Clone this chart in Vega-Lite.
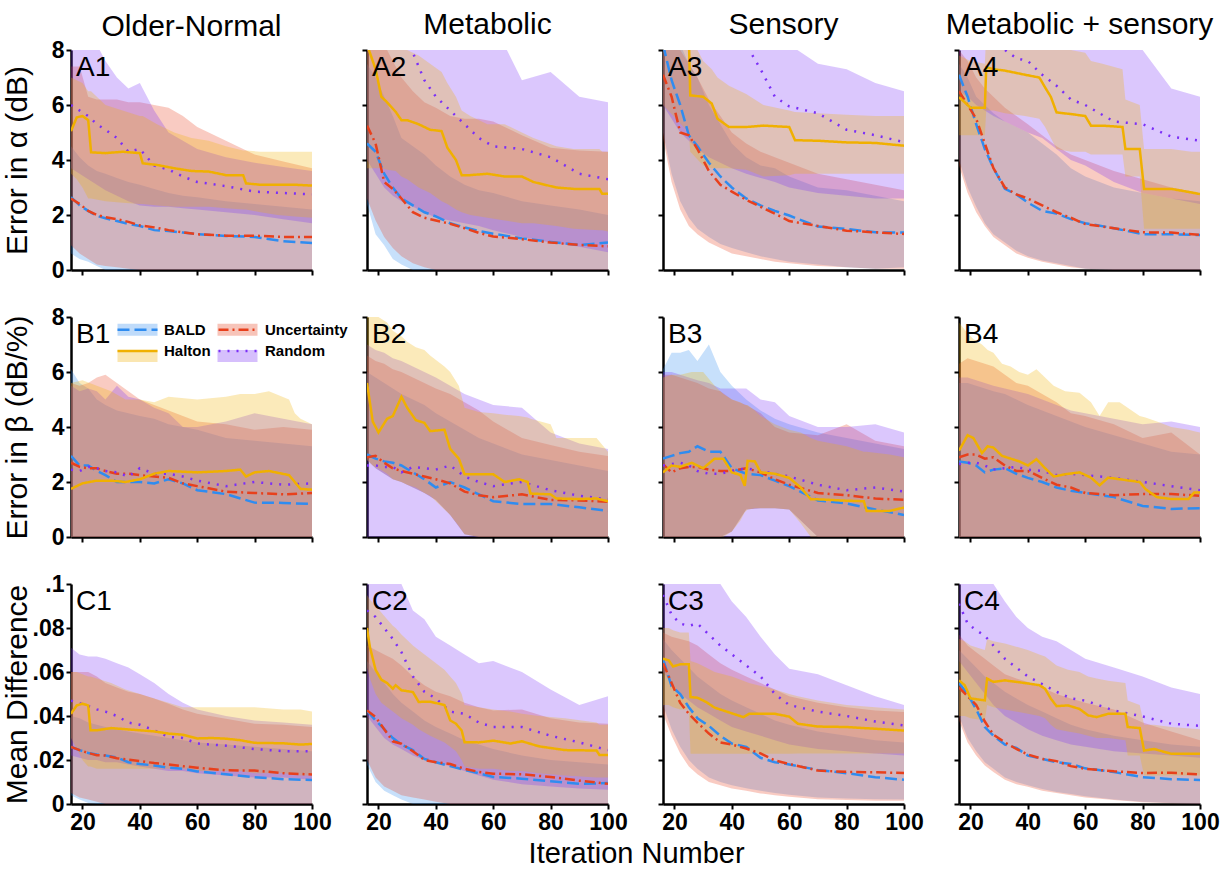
{
"$schema":"https://vega.github.io/schema/vega-lite/v6.json",
"background":"white",
"padding":{"left":2,"top":10,"right":4,"bottom":0},
"title":{"text":"Iteration Number","orient":"bottom","anchor":"middle","fontSize":29,"offset":6,"dx":26},
"resolve":{"legend":{"color":"independent","strokeDash":"independent","fill":"independent"}},
"data":{"values":[
{"p":"A1","m":"B","x":16,"y":2.65,"l":0.6,"h":4.5},{"p":"A1","m":"B","x":19,"y":2.35,"l":0.4,"h":4.1},{"p":"A1","m":"B","x":22,"y":2.15,"l":0.3,"h":3.8},{"p":"A1","m":"B","x":25,"y":1.97,"l":0.15,"h":3.6},{"p":"A1","m":"B","x":28,"y":1.88,"l":0,"h":3.5},{"p":"A1","m":"B","x":32,"y":1.78,"l":0,"h":3.35},{"p":"A1","m":"B","x":36,"y":1.68,"l":0,"h":3.2},{"p":"A1","m":"B","x":40,"y":1.6,"l":0,"h":3.1},{"p":"A1","m":"B","x":45,"y":1.45,"l":0,"h":2.95},{"p":"A1","m":"B","x":50,"y":1.42,"l":0,"h":2.8},{"p":"A1","m":"B","x":55,"y":1.36,"l":0,"h":2.7},{"p":"A1","m":"B","x":60,"y":1.3,"l":0,"h":2.65},{"p":"A1","m":"B","x":70,"y":1.24,"l":0,"h":2.5},{"p":"A1","m":"B","x":80,"y":1.2,"l":0,"h":2.4},{"p":"A1","m":"B","x":90,"y":1.05,"l":0,"h":2.3},{"p":"A1","m":"B","x":100,"y":0.98,"l":0,"h":2.2},
{"p":"A1","m":"U","x":16,"y":2.6,"l":0.9,"h":7.4},{"p":"A1","m":"U","x":19,"y":2.4,"l":0.6,"h":7.4},{"p":"A1","m":"U","x":22,"y":2.15,"l":0.4,"h":6.3},{"p":"A1","m":"U","x":25,"y":2.0,"l":0.2,"h":6.2},{"p":"A1","m":"U","x":28,"y":1.92,"l":0.15,"h":6.2},{"p":"A1","m":"U","x":32,"y":1.85,"l":0.1,"h":6.2},{"p":"A1","m":"U","x":36,"y":1.75,"l":0.05,"h":6.1},{"p":"A1","m":"U","x":40,"y":1.62,"l":0,"h":6.1},{"p":"A1","m":"U","x":45,"y":1.55,"l":0,"h":6.0},{"p":"A1","m":"U","x":50,"y":1.45,"l":0,"h":5.9},{"p":"A1","m":"U","x":55,"y":1.37,"l":0,"h":5.6},{"p":"A1","m":"U","x":60,"y":1.3,"l":0,"h":5.2},{"p":"A1","m":"U","x":70,"y":1.25,"l":0,"h":4.7},{"p":"A1","m":"U","x":80,"y":1.25,"l":0,"h":4.2},{"p":"A1","m":"U","x":90,"y":1.2,"l":0,"h":3.95},{"p":"A1","m":"U","x":100,"y":1.2,"l":0,"h":3.7},
{"p":"A1","m":"R","x":16,"y":6.0,"l":3.7,"h":8.5},{"p":"A1","m":"R","x":19,"y":5.8,"l":3.5,"h":8.5},{"p":"A1","m":"R","x":22,"y":5.6,"l":3.3,"h":8.5},{"p":"A1","m":"R","x":25,"y":5.3,"l":3.1,"h":8.2},{"p":"A1","m":"R","x":28,"y":5.1,"l":2.9,"h":7.6},{"p":"A1","m":"R","x":32,"y":4.8,"l":2.7,"h":7.0},{"p":"A1","m":"R","x":36,"y":4.3,"l":2.5,"h":6.6},{"p":"A1","m":"R","x":40,"y":4.4,"l":2.35,"h":6.8},{"p":"A1","m":"R","x":45,"y":3.8,"l":2.3,"h":5.8},{"p":"A1","m":"R","x":50,"y":3.65,"l":2.3,"h":5.0},{"p":"A1","m":"R","x":55,"y":3.4,"l":2.25,"h":4.7},{"p":"A1","m":"R","x":60,"y":3.2,"l":2.2,"h":4.4},{"p":"A1","m":"R","x":70,"y":3.05,"l":2.1,"h":4.1},{"p":"A1","m":"R","x":80,"y":2.85,"l":2.0,"h":3.9},{"p":"A1","m":"R","x":90,"y":2.8,"l":1.85,"h":3.75},{"p":"A1","m":"R","x":100,"y":2.75,"l":1.7,"h":3.6},
{"p":"A1","m":"H","x":16,"y":5.05,"l":3.5,"h":7.0},{"p":"A1","m":"H","x":18,"y":5.55,"l":3.3,"h":6.9},{"p":"A1","m":"H","x":20,"y":5.6,"l":3.0,"h":6.8},{"p":"A1","m":"H","x":22,"y":5.45,"l":2.6,"h":6.5},{"p":"A1","m":"H","x":23,"y":4.28,"l":2.6,"h":6.5},{"p":"A1","m":"H","x":28,"y":4.25,"l":2.5,"h":6.0},{"p":"A1","m":"H","x":34,"y":4.3,"l":2.45,"h":5.8},{"p":"A1","m":"H","x":40,"y":4.25,"l":2.4,"h":5.6},{"p":"A1","m":"H","x":41,"y":3.88,"l":2.4,"h":5.6},{"p":"A1","m":"H","x":46,"y":3.82,"l":2.35,"h":5.3},{"p":"A1","m":"H","x":52,"y":3.7,"l":2.3,"h":5.0},{"p":"A1","m":"H","x":58,"y":3.6,"l":2.3,"h":4.8},{"p":"A1","m":"H","x":64,"y":3.58,"l":2.3,"h":4.7},{"p":"A1","m":"H","x":70,"y":3.45,"l":2.25,"h":4.5},{"p":"A1","m":"H","x":76,"y":3.45,"l":2.2,"h":4.35},{"p":"A1","m":"H","x":77,"y":3.15,"l":2.2,"h":4.35},{"p":"A1","m":"H","x":82,"y":3.1,"l":2.1,"h":4.3},{"p":"A1","m":"H","x":88,"y":3.1,"l":2.0,"h":4.3},{"p":"A1","m":"H","x":94,"y":3.1,"l":1.95,"h":4.3},{"p":"A1","m":"H","x":100,"y":3.07,"l":1.9,"h":4.3},

{"p":"A2","m":"B","x":16,"y":4.6,"l":2.4,"h":7.5},{"p":"A2","m":"B","x":19,"y":4.3,"l":1.3,"h":7.0},{"p":"A2","m":"B","x":22,"y":3.5,"l":0.9,"h":6.3},{"p":"A2","m":"B","x":25,"y":3.0,"l":0.4,"h":5.6},{"p":"A2","m":"B","x":28,"y":2.6,"l":0.2,"h":4.8},{"p":"A2","m":"B","x":32,"y":2.35,"l":0,"h":4.5},{"p":"A2","m":"B","x":36,"y":2.1,"l":0,"h":4.2},{"p":"A2","m":"B","x":40,"y":1.95,"l":0,"h":3.8},{"p":"A2","m":"B","x":45,"y":1.7,"l":0,"h":3.4},{"p":"A2","m":"B","x":50,"y":1.55,"l":0,"h":3.1},{"p":"A2","m":"B","x":55,"y":1.42,"l":0,"h":2.9},{"p":"A2","m":"B","x":60,"y":1.32,"l":0,"h":2.8},{"p":"A2","m":"B","x":70,"y":1.15,"l":0,"h":2.5},{"p":"A2","m":"B","x":80,"y":1.02,"l":0,"h":2.35},{"p":"A2","m":"B","x":90,"y":0.91,"l":0,"h":2.2},{"p":"A2","m":"B","x":100,"y":1.0,"l":0,"h":2.0},
{"p":"A2","m":"U","x":16,"y":5.25,"l":2.6,"h":8.5},{"p":"A2","m":"U","x":19,"y":4.6,"l":1.8,"h":8.5},{"p":"A2","m":"U","x":22,"y":3.2,"l":1.2,"h":8.2},{"p":"A2","m":"U","x":25,"y":2.95,"l":0.8,"h":7.6},{"p":"A2","m":"U","x":28,"y":2.6,"l":0.5,"h":7.0},{"p":"A2","m":"U","x":32,"y":2.1,"l":0.25,"h":6.5},{"p":"A2","m":"U","x":36,"y":1.9,"l":0.1,"h":6.1},{"p":"A2","m":"U","x":40,"y":1.8,"l":0,"h":5.9},{"p":"A2","m":"U","x":45,"y":1.68,"l":0,"h":5.6},{"p":"A2","m":"U","x":50,"y":1.52,"l":0,"h":5.5},{"p":"A2","m":"U","x":55,"y":1.35,"l":0,"h":5.5},{"p":"A2","m":"U","x":60,"y":1.22,"l":0,"h":5.4},{"p":"A2","m":"U","x":70,"y":1.12,"l":0,"h":4.9},{"p":"A2","m":"U","x":80,"y":1.0,"l":0,"h":4.45},{"p":"A2","m":"U","x":90,"y":0.91,"l":0,"h":4.35},{"p":"A2","m":"U","x":100,"y":0.86,"l":0,"h":4.3},
{"p":"A2","m":"R","x":16,"y":9.8,"l":4.0,"h":10},{"p":"A2","m":"R","x":19,"y":9.5,"l":3.5,"h":10},{"p":"A2","m":"R","x":22,"y":9.2,"l":3.0,"h":10},{"p":"A2","m":"R","x":25,"y":8.9,"l":2.7,"h":10},{"p":"A2","m":"R","x":28,"y":8.5,"l":2.5,"h":10},{"p":"A2","m":"R","x":32,"y":7.9,"l":2.3,"h":10},{"p":"A2","m":"R","x":36,"y":6.9,"l":2.1,"h":10},{"p":"A2","m":"R","x":40,"y":6.3,"l":1.9,"h":10},{"p":"A2","m":"R","x":45,"y":5.8,"l":1.8,"h":10},{"p":"A2","m":"R","x":50,"y":5.3,"l":1.7,"h":10},{"p":"A2","m":"R","x":55,"y":4.8,"l":1.6,"h":10},{"p":"A2","m":"R","x":60,"y":4.5,"l":1.45,"h":9.0},{"p":"A2","m":"R","x":70,"y":4.4,"l":1.2,"h":6.9},{"p":"A2","m":"R","x":80,"y":4.1,"l":1.0,"h":7.2},{"p":"A2","m":"R","x":90,"y":3.5,"l":0.85,"h":6.3},{"p":"A2","m":"R","x":100,"y":3.3,"l":0.65,"h":6.1},
{"p":"A2","m":"H","x":16,"y":8.2,"l":3.7,"h":9},{"p":"A2","m":"H","x":19,"y":7.3,"l":3.7,"h":9},{"p":"A2","m":"H","x":21,"y":6.3,"l":3.7,"h":8.8},{"p":"A2","m":"H","x":23,"y":6.1,"l":3.65,"h":8.6},{"p":"A2","m":"H","x":26,"y":5.75,"l":3.6,"h":8.4},{"p":"A2","m":"H","x":28,"y":5.45,"l":3.4,"h":8.2},{"p":"A2","m":"H","x":30,"y":5.45,"l":3.3,"h":8.0},{"p":"A2","m":"H","x":34,"y":5.3,"l":3.0,"h":7.8},{"p":"A2","m":"H","x":38,"y":5.1,"l":2.8,"h":7.5},{"p":"A2","m":"H","x":42,"y":5.05,"l":2.5,"h":7.2},{"p":"A2","m":"H","x":44,"y":4.45,"l":2.4,"h":6.8},{"p":"A2","m":"H","x":47,"y":4.0,"l":2.2,"h":6.3},{"p":"A2","m":"H","x":49,"y":3.45,"l":2.1,"h":5.8},{"p":"A2","m":"H","x":52,"y":3.45,"l":2.0,"h":5.6},{"p":"A2","m":"H","x":58,"y":3.5,"l":1.9,"h":5.3},{"p":"A2","m":"H","x":64,"y":3.4,"l":1.8,"h":5.3},{"p":"A2","m":"H","x":70,"y":3.4,"l":1.7,"h":5.0},{"p":"A2","m":"H","x":74,"y":3.2,"l":1.7,"h":4.8},{"p":"A2","m":"H","x":82,"y":3.0,"l":1.6,"h":4.5},{"p":"A2","m":"H","x":88,"y":2.95,"l":1.5,"h":4.4},{"p":"A2","m":"H","x":97,"y":2.95,"l":1.45,"h":4.4},{"p":"A2","m":"H","x":98,"y":2.77,"l":1.45,"h":4.3},{"p":"A2","m":"H","x":100,"y":2.77,"l":1.4,"h":4.3},

{"p":"A3","m":"B","x":16,"y":8.2,"l":5.0,"h":9},{"p":"A3","m":"B","x":19,"y":6.9,"l":3.5,"h":8.5},{"p":"A3","m":"B","x":22,"y":6.0,"l":2.5,"h":8.2},{"p":"A3","m":"B","x":25,"y":4.9,"l":1.9,"h":7.5},{"p":"A3","m":"B","x":28,"y":4.5,"l":1.5,"h":7.0},{"p":"A3","m":"B","x":32,"y":3.9,"l":1.2,"h":6.0},{"p":"A3","m":"B","x":36,"y":3.4,"l":0.95,"h":5.3},{"p":"A3","m":"B","x":40,"y":3.0,"l":0.8,"h":4.6},{"p":"A3","m":"B","x":45,"y":2.6,"l":0.65,"h":4.1},{"p":"A3","m":"B","x":50,"y":2.35,"l":0.5,"h":3.8},{"p":"A3","m":"B","x":55,"y":2.15,"l":0.4,"h":3.7},{"p":"A3","m":"B","x":60,"y":1.98,"l":0.3,"h":3.4},{"p":"A3","m":"B","x":70,"y":1.58,"l":0.2,"h":3.0},{"p":"A3","m":"B","x":80,"y":1.49,"l":0.1,"h":2.9},{"p":"A3","m":"B","x":90,"y":1.37,"l":0.05,"h":2.7},{"p":"A3","m":"B","x":100,"y":1.36,"l":0.1,"h":2.5},
{"p":"A3","m":"U","x":16,"y":7.1,"l":4.8,"h":8.5},{"p":"A3","m":"U","x":19,"y":6.3,"l":3.2,"h":8.3},{"p":"A3","m":"U","x":22,"y":5.0,"l":2.2,"h":8.0},{"p":"A3","m":"U","x":25,"y":4.9,"l":1.6,"h":7.5},{"p":"A3","m":"U","x":28,"y":4.4,"l":1.3,"h":7.0},{"p":"A3","m":"U","x":32,"y":3.6,"l":1.0,"h":6.2},{"p":"A3","m":"U","x":36,"y":3.1,"l":0.8,"h":5.6},{"p":"A3","m":"U","x":40,"y":2.85,"l":0.6,"h":5.0},{"p":"A3","m":"U","x":45,"y":2.55,"l":0.5,"h":4.6},{"p":"A3","m":"U","x":50,"y":2.3,"l":0.4,"h":4.3},{"p":"A3","m":"U","x":55,"y":2.05,"l":0.3,"h":4.1},{"p":"A3","m":"U","x":60,"y":1.78,"l":0.25,"h":3.9},{"p":"A3","m":"U","x":70,"y":1.6,"l":0.15,"h":3.5},{"p":"A3","m":"U","x":80,"y":1.43,"l":0.1,"h":3.3},{"p":"A3","m":"U","x":90,"y":1.37,"l":0.05,"h":3.1},{"p":"A3","m":"U","x":100,"y":1.31,"l":0.05,"h":2.9},
{"p":"A3","m":"R","x":16,"y":11,"l":6,"h":12},{"p":"A3","m":"R","x":19,"y":10.8,"l":5.5,"h":12},{"p":"A3","m":"R","x":22,"y":10.5,"l":5.0,"h":12},{"p":"A3","m":"R","x":25,"y":10.2,"l":4.7,"h":12},{"p":"A3","m":"R","x":28,"y":9.8,"l":4.4,"h":12},{"p":"A3","m":"R","x":32,"y":9.4,"l":4.1,"h":12},{"p":"A3","m":"R","x":36,"y":9.0,"l":3.9,"h":12},{"p":"A3","m":"R","x":40,"y":8.6,"l":3.7,"h":12},{"p":"A3","m":"R","x":45,"y":8.2,"l":3.5,"h":12},{"p":"A3","m":"R","x":50,"y":7.3,"l":3.35,"h":12},{"p":"A3","m":"R","x":55,"y":6.3,"l":3.2,"h":11},{"p":"A3","m":"R","x":60,"y":5.95,"l":3.0,"h":8.2},{"p":"A3","m":"R","x":70,"y":5.7,"l":2.8,"h":7.5},{"p":"A3","m":"R","x":80,"y":5.1,"l":2.7,"h":7.3},{"p":"A3","m":"R","x":90,"y":4.9,"l":2.6,"h":6.8},{"p":"A3","m":"R","x":100,"y":4.65,"l":2.6,"h":6.5},
{"p":"A3","m":"H","x":16,"y":9.5,"l":6.0,"h":10},{"p":"A3","m":"H","x":25,"y":8.5,"l":5.0,"h":9.5},{"p":"A3","m":"H","x":25.5,"y":6.35,"l":4.3,"h":8.5},{"p":"A3","m":"H","x":30,"y":6.3,"l":3.8,"h":7.6},{"p":"A3","m":"H","x":33,"y":6.05,"l":3.7,"h":7.3},{"p":"A3","m":"H","x":35,"y":5.5,"l":3.7,"h":7.0},{"p":"A3","m":"H","x":39,"y":5.2,"l":3.7,"h":6.7},{"p":"A3","m":"H","x":45,"y":5.2,"l":3.65,"h":6.4},{"p":"A3","m":"H","x":51,"y":5.25,"l":3.4,"h":6.0},{"p":"A3","m":"H","x":60,"y":5.2,"l":3.45,"h":5.8},{"p":"A3","m":"H","x":62,"y":4.72,"l":3.5,"h":5.75},{"p":"A3","m":"H","x":70,"y":4.7,"l":3.5,"h":5.7},{"p":"A3","m":"H","x":80,"y":4.64,"l":3.5,"h":5.65},{"p":"A3","m":"H","x":90,"y":4.62,"l":3.5,"h":5.6},{"p":"A3","m":"H","x":100,"y":4.52,"l":3.5,"h":5.6},

{"p":"A4","m":"B","x":16,"y":7.1,"l":4.0,"h":7.5},{"p":"A4","m":"B","x":19,"y":6.3,"l":3.0,"h":7.0},{"p":"A4","m":"B","x":22,"y":5.3,"l":2.3,"h":6.3},{"p":"A4","m":"B","x":25,"y":4.4,"l":1.7,"h":6.0},{"p":"A4","m":"B","x":28,"y":3.7,"l":1.3,"h":5.7},{"p":"A4","m":"B","x":32,"y":2.95,"l":1.0,"h":5.4},{"p":"A4","m":"B","x":36,"y":2.75,"l":0.7,"h":5.2},{"p":"A4","m":"B","x":40,"y":2.45,"l":0.5,"h":5.0},{"p":"A4","m":"B","x":45,"y":2.15,"l":0.35,"h":4.6},{"p":"A4","m":"B","x":50,"y":2.05,"l":0.25,"h":4.2},{"p":"A4","m":"B","x":55,"y":1.85,"l":0.15,"h":3.7},{"p":"A4","m":"B","x":60,"y":1.7,"l":0.05,"h":3.4},{"p":"A4","m":"B","x":70,"y":1.52,"l":0,"h":3.0},{"p":"A4","m":"B","x":80,"y":1.3,"l":0,"h":2.8},{"p":"A4","m":"B","x":90,"y":1.3,"l":0,"h":2.6},{"p":"A4","m":"B","x":100,"y":1.27,"l":0,"h":2.5},
{"p":"A4","m":"U","x":16,"y":6.5,"l":3.8,"h":8.0},{"p":"A4","m":"U","x":19,"y":6.0,"l":2.8,"h":7.6},{"p":"A4","m":"U","x":22,"y":5.5,"l":2.1,"h":7.0},{"p":"A4","m":"U","x":25,"y":4.6,"l":1.6,"h":6.6},{"p":"A4","m":"U","x":28,"y":3.7,"l":1.2,"h":6.3},{"p":"A4","m":"U","x":32,"y":3.0,"l":0.9,"h":5.9},{"p":"A4","m":"U","x":36,"y":2.75,"l":0.6,"h":5.6},{"p":"A4","m":"U","x":40,"y":2.6,"l":0.45,"h":5.3},{"p":"A4","m":"U","x":45,"y":2.35,"l":0.3,"h":4.9},{"p":"A4","m":"U","x":50,"y":2.1,"l":0.2,"h":4.5},{"p":"A4","m":"U","x":55,"y":1.9,"l":0.1,"h":4.2},{"p":"A4","m":"U","x":60,"y":1.67,"l":0.05,"h":4.0},{"p":"A4","m":"U","x":70,"y":1.52,"l":0,"h":3.6},{"p":"A4","m":"U","x":80,"y":1.37,"l":0,"h":3.3},{"p":"A4","m":"U","x":90,"y":1.36,"l":0,"h":3.0},{"p":"A4","m":"U","x":100,"y":1.28,"l":0,"h":2.8},
{"p":"A4","m":"R","x":16,"y":10,"l":6.5,"h":12},{"p":"A4","m":"R","x":19,"y":9.6,"l":6.3,"h":12},{"p":"A4","m":"R","x":22,"y":9.3,"l":6.0,"h":12},{"p":"A4","m":"R","x":25,"y":9.0,"l":5.8,"h":12},{"p":"A4","m":"R","x":28,"y":8.6,"l":5.6,"h":12},{"p":"A4","m":"R","x":32,"y":8.0,"l":5.4,"h":12},{"p":"A4","m":"R","x":36,"y":7.7,"l":5.2,"h":12},{"p":"A4","m":"R","x":40,"y":7.6,"l":5.0,"h":12},{"p":"A4","m":"R","x":45,"y":7.1,"l":4.8,"h":12},{"p":"A4","m":"R","x":50,"y":6.7,"l":4.4,"h":12},{"p":"A4","m":"R","x":55,"y":6.2,"l":4.0,"h":12},{"p":"A4","m":"R","x":60,"y":6.0,"l":3.8,"h":10},{"p":"A4","m":"R","x":70,"y":5.4,"l":3.2,"h":8.5},{"p":"A4","m":"R","x":80,"y":5.3,"l":2.8,"h":8.0},{"p":"A4","m":"R","x":90,"y":4.85,"l":2.6,"h":6.6},{"p":"A4","m":"R","x":100,"y":4.7,"l":2.4,"h":6.3},
{"p":"A4","m":"H","x":16,"y":6.28,"l":4.9,"h":7.8},{"p":"A4","m":"H","x":18,"y":6.1,"l":4.9,"h":7.7},{"p":"A4","m":"H","x":20,"y":5.9,"l":4.9,"h":7.6},{"p":"A4","m":"H","x":25,"y":5.9,"l":4.9,"h":7.5},{"p":"A4","m":"H","x":25.5,"y":7.37,"l":5.8,"h":8.6},{"p":"A4","m":"H","x":28,"y":7.3,"l":5.8,"h":8.6},{"p":"A4","m":"H","x":32,"y":7.25,"l":5.7,"h":8.6},{"p":"A4","m":"H","x":39,"y":7.1,"l":5.6,"h":8.5},{"p":"A4","m":"H","x":44,"y":7.0,"l":5.5,"h":8.5},{"p":"A4","m":"H","x":46,"y":6.64,"l":5.2,"h":8.4},{"p":"A4","m":"H","x":48,"y":6.3,"l":4.8,"h":8.3},{"p":"A4","m":"H","x":50,"y":5.73,"l":4.4,"h":8.1},{"p":"A4","m":"H","x":55,"y":5.67,"l":4.3,"h":8.0},{"p":"A4","m":"H","x":60,"y":5.6,"l":4.3,"h":7.9},{"p":"A4","m":"H","x":62,"y":5.25,"l":4.2,"h":7.6},{"p":"A4","m":"H","x":66,"y":5.25,"l":4.2,"h":7.5},{"p":"A4","m":"H","x":73,"y":5.2,"l":4.2,"h":7.3},{"p":"A4","m":"H","x":74,"y":4.4,"l":3.4,"h":6.2},{"p":"A4","m":"H","x":79,"y":4.4,"l":3.4,"h":6.0},{"p":"A4","m":"H","x":80.5,"y":2.95,"l":1.5,"h":4.4},{"p":"A4","m":"H","x":90,"y":2.95,"l":1.5,"h":4.4},{"p":"A4","m":"H","x":97,"y":2.82,"l":1.5,"h":4.3},{"p":"A4","m":"H","x":100,"y":2.76,"l":1.5,"h":4.3},

{"p":"B1","m":"B","x":16,"y":2.95,"l":0,"h":6.1},{"p":"B1","m":"B","x":19,"y":2.6,"l":0,"h":5.6},{"p":"B1","m":"B","x":22,"y":2.6,"l":0,"h":5.4},{"p":"B1","m":"B","x":25,"y":2.4,"l":0,"h":5.0},{"p":"B1","m":"B","x":28,"y":2.25,"l":0,"h":4.8},{"p":"B1","m":"B","x":32,"y":2.0,"l":0,"h":4.6},{"p":"B1","m":"B","x":36,"y":2.0,"l":0,"h":4.5},{"p":"B1","m":"B","x":40,"y":2.0,"l":0,"h":4.4},{"p":"B1","m":"B","x":45,"y":1.95,"l":0,"h":4.3},{"p":"B1","m":"B","x":50,"y":2.1,"l":0,"h":4.1},{"p":"B1","m":"B","x":55,"y":1.95,"l":0,"h":4.0},{"p":"B1","m":"B","x":60,"y":1.7,"l":0,"h":3.9},{"p":"B1","m":"B","x":70,"y":1.56,"l":0,"h":3.6},{"p":"B1","m":"B","x":80,"y":1.25,"l":0,"h":3.5},{"p":"B1","m":"B","x":90,"y":1.24,"l":0,"h":3.4},{"p":"B1","m":"B","x":100,"y":1.2,"l":0,"h":3.3},
{"p":"B1","m":"U","x":16,"y":2.7,"l":0,"h":5.6},{"p":"B1","m":"U","x":19,"y":2.55,"l":0,"h":5.5},{"p":"B1","m":"U","x":22,"y":2.5,"l":0,"h":5.6},{"p":"B1","m":"U","x":25,"y":2.5,"l":0,"h":5.8},{"p":"B1","m":"U","x":28,"y":2.4,"l":0,"h":5.9},{"p":"B1","m":"U","x":32,"y":2.3,"l":0,"h":5.6},{"p":"B1","m":"U","x":36,"y":2.3,"l":0,"h":5.3},{"p":"B1","m":"U","x":40,"y":2.25,"l":0,"h":5.0},{"p":"B1","m":"U","x":45,"y":2.2,"l":0,"h":4.8},{"p":"B1","m":"U","x":50,"y":2.15,"l":0,"h":4.6},{"p":"B1","m":"U","x":55,"y":1.95,"l":0,"h":4.4},{"p":"B1","m":"U","x":60,"y":1.85,"l":0,"h":4.2},{"p":"B1","m":"U","x":70,"y":1.65,"l":0,"h":4.1},{"p":"B1","m":"U","x":80,"y":1.6,"l":0,"h":3.9},{"p":"B1","m":"U","x":90,"y":1.55,"l":0,"h":4.0},{"p":"B1","m":"U","x":100,"y":1.6,"l":0,"h":3.9},
{"p":"B1","m":"R","x":16,"y":2.45,"l":0,"h":5.5},{"p":"B1","m":"R","x":19,"y":2.4,"l":0,"h":5.3},{"p":"B1","m":"R","x":22,"y":2.55,"l":0,"h":5.4},{"p":"B1","m":"R","x":25,"y":2.5,"l":0,"h":5.3},{"p":"B1","m":"R","x":28,"y":2.4,"l":0,"h":5.0},{"p":"B1","m":"R","x":32,"y":2.35,"l":0,"h":5.5},{"p":"B1","m":"R","x":36,"y":2.2,"l":0,"h":5.1},{"p":"B1","m":"R","x":40,"y":2.5,"l":0,"h":5.0},{"p":"B1","m":"R","x":45,"y":2.3,"l":0,"h":4.7},{"p":"B1","m":"R","x":50,"y":2.3,"l":0,"h":4.5},{"p":"B1","m":"R","x":55,"y":2.2,"l":0,"h":4.0},{"p":"B1","m":"R","x":60,"y":2.05,"l":0,"h":4.0},{"p":"B1","m":"R","x":70,"y":1.85,"l":0,"h":4.2},{"p":"B1","m":"R","x":80,"y":2.0,"l":0,"h":4.5},{"p":"B1","m":"R","x":90,"y":1.9,"l":0,"h":4.3},{"p":"B1","m":"R","x":100,"y":1.95,"l":0,"h":4.1},
{"p":"B1","m":"H","x":16,"y":1.75,"l":0,"h":5.6},{"p":"B1","m":"H","x":20,"y":1.95,"l":0,"h":5.7},{"p":"B1","m":"H","x":25,"y":2.05,"l":0,"h":5.5},{"p":"B1","m":"H","x":30,"y":2.05,"l":0,"h":5.3},{"p":"B1","m":"H","x":35,"y":2.0,"l":0,"h":5.0},{"p":"B1","m":"H","x":40,"y":2.1,"l":0,"h":5.0},{"p":"B1","m":"H","x":45,"y":2.3,"l":0,"h":4.9},{"p":"B1","m":"H","x":50,"y":2.4,"l":0,"h":5.1},{"p":"B1","m":"H","x":60,"y":2.35,"l":0,"h":5.0},{"p":"B1","m":"H","x":70,"y":2.4,"l":0,"h":5.1},{"p":"B1","m":"H","x":75,"y":2.45,"l":0,"h":5.2},{"p":"B1","m":"H","x":77,"y":2.2,"l":0,"h":5.2},{"p":"B1","m":"H","x":80,"y":2.35,"l":0,"h":5.2},{"p":"B1","m":"H","x":85,"y":2.4,"l":0,"h":5.3},{"p":"B1","m":"H","x":92,"y":2.25,"l":0,"h":5.0},{"p":"B1","m":"H","x":94,"y":2.0,"l":0,"h":4.5},{"p":"B1","m":"H","x":96,"y":1.75,"l":0,"h":4.3},{"p":"B1","m":"H","x":100,"y":1.72,"l":0,"h":4.1},

{"p":"B2","m":"B","x":16,"y":3.0,"l":2.8,"h":6.0},{"p":"B2","m":"B","x":19,"y":2.85,"l":2.5,"h":5.8},{"p":"B2","m":"B","x":22,"y":2.75,"l":2.3,"h":5.6},{"p":"B2","m":"B","x":25,"y":2.7,"l":2.1,"h":5.4},{"p":"B2","m":"B","x":28,"y":2.6,"l":2.0,"h":5.2},{"p":"B2","m":"B","x":32,"y":2.35,"l":1.8,"h":5.0},{"p":"B2","m":"B","x":36,"y":2.1,"l":1.6,"h":4.8},{"p":"B2","m":"B","x":40,"y":1.8,"l":1.35,"h":4.5},{"p":"B2","m":"B","x":45,"y":2.0,"l":0.8,"h":4.2},{"p":"B2","m":"B","x":50,"y":1.8,"l":0.1,"h":3.9},{"p":"B2","m":"B","x":55,"y":1.55,"l":0,"h":3.6},{"p":"B2","m":"B","x":60,"y":1.3,"l":0,"h":3.4},{"p":"B2","m":"B","x":70,"y":1.2,"l":0,"h":3.0},{"p":"B2","m":"B","x":80,"y":1.2,"l":0,"h":2.8},{"p":"B2","m":"B","x":90,"y":1.08,"l":0,"h":2.6},{"p":"B2","m":"B","x":100,"y":0.95,"l":0,"h":2.4},
{"p":"B2","m":"U","x":16,"y":2.9,"l":2.8,"h":6.6},{"p":"B2","m":"U","x":19,"y":2.95,"l":2.5,"h":6.4},{"p":"B2","m":"U","x":22,"y":2.7,"l":2.3,"h":6.3},{"p":"B2","m":"U","x":25,"y":2.5,"l":2.1,"h":6.1},{"p":"B2","m":"U","x":28,"y":2.4,"l":2.0,"h":6.0},{"p":"B2","m":"U","x":32,"y":2.3,"l":1.8,"h":5.8},{"p":"B2","m":"U","x":36,"y":2.2,"l":1.6,"h":5.6},{"p":"B2","m":"U","x":40,"y":2.1,"l":1.35,"h":5.4},{"p":"B2","m":"U","x":45,"y":1.95,"l":0.8,"h":5.2},{"p":"B2","m":"U","x":50,"y":1.65,"l":0.1,"h":4.9},{"p":"B2","m":"U","x":55,"y":1.52,"l":0,"h":4.6},{"p":"B2","m":"U","x":60,"y":1.45,"l":0,"h":4.2},{"p":"B2","m":"U","x":70,"y":1.55,"l":0,"h":3.6},{"p":"B2","m":"U","x":80,"y":1.35,"l":0,"h":3.35},{"p":"B2","m":"U","x":90,"y":1.33,"l":0,"h":3.1},{"p":"B2","m":"U","x":100,"y":1.28,"l":0,"h":2.95},
{"p":"B2","m":"R","x":16,"y":2.6,"l":0,"h":7.0},{"p":"B2","m":"R","x":19,"y":2.6,"l":0,"h":6.8},{"p":"B2","m":"R","x":22,"y":2.55,"l":0,"h":6.7},{"p":"B2","m":"R","x":25,"y":2.55,"l":0,"h":6.5},{"p":"B2","m":"R","x":28,"y":2.35,"l":0,"h":6.4},{"p":"B2","m":"R","x":32,"y":2.55,"l":0,"h":6.2},{"p":"B2","m":"R","x":36,"y":2.5,"l":0,"h":6.0},{"p":"B2","m":"R","x":40,"y":2.45,"l":0,"h":5.8},{"p":"B2","m":"R","x":45,"y":2.6,"l":0,"h":5.5},{"p":"B2","m":"R","x":50,"y":2.2,"l":0,"h":5.2},{"p":"B2","m":"R","x":55,"y":2.0,"l":0,"h":5.0},{"p":"B2","m":"R","x":60,"y":1.85,"l":0,"h":4.8},{"p":"B2","m":"R","x":70,"y":2.0,"l":0,"h":4.7},{"p":"B2","m":"R","x":80,"y":1.7,"l":0,"h":3.8},{"p":"B2","m":"R","x":90,"y":1.5,"l":0,"h":3.4},{"p":"B2","m":"R","x":100,"y":1.37,"l":0,"h":3.2},
{"p":"B2","m":"H","x":16,"y":5.6,"l":2.8,"h":8.0},{"p":"B2","m":"H","x":18,"y":4.2,"l":2.6,"h":8.0},{"p":"B2","m":"H","x":20,"y":3.8,"l":2.5,"h":8.0},{"p":"B2","m":"H","x":23,"y":4.3,"l":2.3,"h":7.8},{"p":"B2","m":"H","x":25,"y":4.4,"l":2.1,"h":7.5},{"p":"B2","m":"H","x":28,"y":5.1,"l":2.0,"h":7.3},{"p":"B2","m":"H","x":30,"y":4.7,"l":1.9,"h":7.1},{"p":"B2","m":"H","x":33,"y":4.25,"l":1.8,"h":6.9},{"p":"B2","m":"H","x":36,"y":4.15,"l":1.6,"h":6.8},{"p":"B2","m":"H","x":38,"y":3.85,"l":1.5,"h":6.6},{"p":"B2","m":"H","x":43,"y":3.9,"l":1.0,"h":6.2},{"p":"B2","m":"H","x":45,"y":3.2,"l":0.8,"h":6.0},{"p":"B2","m":"H","x":48,"y":2.85,"l":0.4,"h":5.5},{"p":"B2","m":"H","x":50,"y":2.28,"l":0.1,"h":4.7},{"p":"B2","m":"H","x":55,"y":2.28,"l":0,"h":4.55},{"p":"B2","m":"H","x":60,"y":2.28,"l":0,"h":4.5},{"p":"B2","m":"H","x":64,"y":2.0,"l":0,"h":4.45},{"p":"B2","m":"H","x":69,"y":2.1,"l":0,"h":4.4},{"p":"B2","m":"H","x":72,"y":2.0,"l":0,"h":4.35},{"p":"B2","m":"H","x":73,"y":1.58,"l":0,"h":4.3},{"p":"B2","m":"H","x":80,"y":1.55,"l":0,"h":4.1},{"p":"B2","m":"H","x":82,"y":1.4,"l":0,"h":3.6},{"p":"B2","m":"H","x":90,"y":1.38,"l":0,"h":3.6},{"p":"B2","m":"H","x":96,"y":1.4,"l":0,"h":3.6},{"p":"B2","m":"H","x":100,"y":1.3,"l":0,"h":3.1},

{"p":"B3","m":"B","x":16,"y":2.85,"l":0,"h":6.1},{"p":"B3","m":"B","x":19,"y":2.95,"l":0,"h":6.7},{"p":"B3","m":"B","x":22,"y":3.05,"l":0,"h":6.7},{"p":"B3","m":"B","x":25,"y":3.1,"l":0,"h":6.8},{"p":"B3","m":"B","x":28,"y":3.3,"l":0,"h":6.4},{"p":"B3","m":"B","x":32,"y":3.1,"l":0,"h":7.0},{"p":"B3","m":"B","x":36,"y":3.1,"l":0,"h":6.0},{"p":"B3","m":"B","x":40,"y":2.5,"l":0.2,"h":5.5},{"p":"B3","m":"B","x":45,"y":2.3,"l":1.0,"h":5.0},{"p":"B3","m":"B","x":50,"y":2.25,"l":1.05,"h":4.6},{"p":"B3","m":"B","x":55,"y":2.05,"l":1.05,"h":4.3},{"p":"B3","m":"B","x":60,"y":1.85,"l":1.0,"h":4.1},{"p":"B3","m":"B","x":70,"y":1.33,"l":0,"h":3.8},{"p":"B3","m":"B","x":80,"y":1.22,"l":0,"h":3.6},{"p":"B3","m":"B","x":90,"y":1.0,"l":0,"h":3.4},{"p":"B3","m":"B","x":100,"y":0.8,"l":0,"h":3.2},
{"p":"B3","m":"U","x":16,"y":2.65,"l":0,"h":5.9},{"p":"B3","m":"U","x":19,"y":2.35,"l":0,"h":5.9},{"p":"B3","m":"U","x":22,"y":2.5,"l":0,"h":5.8},{"p":"B3","m":"U","x":25,"y":2.55,"l":0,"h":5.7},{"p":"B3","m":"U","x":28,"y":2.55,"l":0,"h":5.6},{"p":"B3","m":"U","x":32,"y":2.45,"l":0,"h":5.4},{"p":"B3","m":"U","x":36,"y":2.4,"l":0,"h":5.3},{"p":"B3","m":"U","x":40,"y":2.4,"l":0.2,"h":5.0},{"p":"B3","m":"U","x":45,"y":2.5,"l":1.0,"h":4.8},{"p":"B3","m":"U","x":50,"y":2.35,"l":1.05,"h":4.5},{"p":"B3","m":"U","x":55,"y":2.1,"l":1.05,"h":4.0},{"p":"B3","m":"U","x":60,"y":1.9,"l":1.0,"h":3.8},{"p":"B3","m":"U","x":70,"y":1.6,"l":0,"h":3.7},{"p":"B3","m":"U","x":80,"y":1.52,"l":0,"h":4.1},{"p":"B3","m":"U","x":90,"y":1.4,"l":0,"h":3.5},{"p":"B3","m":"U","x":100,"y":1.35,"l":0,"h":3.3},
{"p":"B3","m":"R","x":16,"y":2.6,"l":0,"h":6.0},{"p":"B3","m":"R","x":19,"y":2.65,"l":0,"h":6.0},{"p":"B3","m":"R","x":22,"y":2.7,"l":0,"h":5.9},{"p":"B3","m":"R","x":25,"y":2.6,"l":0,"h":5.8},{"p":"B3","m":"R","x":28,"y":2.4,"l":0,"h":5.7},{"p":"B3","m":"R","x":32,"y":2.3,"l":0,"h":5.6},{"p":"B3","m":"R","x":36,"y":2.3,"l":0,"h":5.4},{"p":"B3","m":"R","x":40,"y":2.4,"l":0,"h":5.4},{"p":"B3","m":"R","x":45,"y":2.5,"l":0,"h":5.4},{"p":"B3","m":"R","x":50,"y":2.4,"l":0,"h":5.0},{"p":"B3","m":"R","x":55,"y":2.3,"l":0,"h":4.9},{"p":"B3","m":"R","x":60,"y":2.2,"l":0,"h":4.4},{"p":"B3","m":"R","x":70,"y":1.9,"l":0,"h":4.0},{"p":"B3","m":"R","x":80,"y":1.7,"l":0,"h":4.0},{"p":"B3","m":"R","x":90,"y":1.8,"l":0,"h":4.1},{"p":"B3","m":"R","x":100,"y":1.65,"l":0,"h":3.8},
{"p":"B3","m":"H","x":16,"y":2.35,"l":0,"h":5.8},{"p":"B3","m":"H","x":19,"y":2.6,"l":0,"h":5.9},{"p":"B3","m":"H","x":22,"y":2.55,"l":0,"h":5.9},{"p":"B3","m":"H","x":26,"y":2.7,"l":0,"h":6.0},{"p":"B3","m":"H","x":30,"y":2.5,"l":0,"h":6.0},{"p":"B3","m":"H","x":34,"y":2.85,"l":0,"h":5.5},{"p":"B3","m":"H","x":37,"y":2.85,"l":0,"h":5.2},{"p":"B3","m":"H","x":40,"y":2.35,"l":0.2,"h":5.0},{"p":"B3","m":"H","x":43,"y":2.25,"l":0.6,"h":4.9},{"p":"B3","m":"H","x":44.5,"y":1.86,"l":0.9,"h":4.8},{"p":"B3","m":"H","x":45.5,"y":2.77,"l":1.0,"h":4.8},{"p":"B3","m":"H","x":48,"y":2.75,"l":1.05,"h":4.6},{"p":"B3","m":"H","x":50,"y":2.35,"l":1.05,"h":4.4},{"p":"B3","m":"H","x":55,"y":2.3,"l":1.05,"h":4.1},{"p":"B3","m":"H","x":60,"y":2.15,"l":1.0,"h":3.9},{"p":"B3","m":"H","x":64,"y":1.8,"l":0.5,"h":3.8},{"p":"B3","m":"H","x":67.5,"y":1.37,"l":0,"h":3.6},{"p":"B3","m":"H","x":70,"y":1.37,"l":0,"h":3.5},{"p":"B3","m":"H","x":80,"y":1.32,"l":0,"h":3.3},{"p":"B3","m":"H","x":86,"y":1.3,"l":0,"h":3.1},{"p":"B3","m":"H","x":87,"y":0.95,"l":0,"h":3.1},{"p":"B3","m":"H","x":95,"y":0.95,"l":0,"h":3.0},{"p":"B3","m":"H","x":100,"y":1.07,"l":0,"h":2.9},

{"p":"B4","m":"B","x":16,"y":2.75,"l":0,"h":5.6},{"p":"B4","m":"B","x":19,"y":2.7,"l":0,"h":5.6},{"p":"B4","m":"B","x":22,"y":2.6,"l":0,"h":5.5},{"p":"B4","m":"B","x":25,"y":2.35,"l":0,"h":5.4},{"p":"B4","m":"B","x":28,"y":2.45,"l":0,"h":5.3},{"p":"B4","m":"B","x":32,"y":2.5,"l":0,"h":5.2},{"p":"B4","m":"B","x":36,"y":2.3,"l":0,"h":5.0},{"p":"B4","m":"B","x":40,"y":2.15,"l":0,"h":4.8},{"p":"B4","m":"B","x":45,"y":2.0,"l":0,"h":4.6},{"p":"B4","m":"B","x":50,"y":1.8,"l":0,"h":4.4},{"p":"B4","m":"B","x":55,"y":1.68,"l":0,"h":4.2},{"p":"B4","m":"B","x":60,"y":1.6,"l":0,"h":4.0},{"p":"B4","m":"B","x":70,"y":1.45,"l":0,"h":3.7},{"p":"B4","m":"B","x":80,"y":1.13,"l":0,"h":3.4},{"p":"B4","m":"B","x":90,"y":1.02,"l":0,"h":3.1},{"p":"B4","m":"B","x":100,"y":1.05,"l":0,"h":3.0},
{"p":"B4","m":"U","x":16,"y":2.9,"l":0,"h":6.3},{"p":"B4","m":"U","x":19,"y":3.0,"l":0,"h":6.5},{"p":"B4","m":"U","x":22,"y":3.0,"l":0,"h":6.4},{"p":"B4","m":"U","x":25,"y":2.85,"l":0,"h":6.3},{"p":"B4","m":"U","x":28,"y":2.9,"l":0,"h":6.2},{"p":"B4","m":"U","x":32,"y":2.6,"l":0,"h":5.9},{"p":"B4","m":"U","x":36,"y":2.4,"l":0,"h":5.6},{"p":"B4","m":"U","x":40,"y":2.4,"l":0,"h":5.5},{"p":"B4","m":"U","x":45,"y":2.15,"l":0,"h":5.2},{"p":"B4","m":"U","x":50,"y":1.9,"l":0,"h":4.9},{"p":"B4","m":"U","x":55,"y":1.8,"l":0,"h":4.5},{"p":"B4","m":"U","x":60,"y":1.6,"l":0,"h":4.4},{"p":"B4","m":"U","x":70,"y":1.52,"l":0,"h":4.1},{"p":"B4","m":"U","x":80,"y":1.56,"l":0,"h":3.6},{"p":"B4","m":"U","x":90,"y":1.56,"l":0,"h":3.8},{"p":"B4","m":"U","x":100,"y":1.5,"l":0,"h":3.0},
{"p":"B4","m":"R","x":16,"y":2.65,"l":0,"h":5.8},{"p":"B4","m":"R","x":19,"y":2.7,"l":0,"h":5.8},{"p":"B4","m":"R","x":22,"y":2.7,"l":0,"h":5.7},{"p":"B4","m":"R","x":25,"y":2.6,"l":0,"h":5.6},{"p":"B4","m":"R","x":28,"y":2.45,"l":0,"h":5.5},{"p":"B4","m":"R","x":32,"y":2.5,"l":0,"h":5.4},{"p":"B4","m":"R","x":36,"y":2.55,"l":0,"h":5.3},{"p":"B4","m":"R","x":40,"y":2.45,"l":0,"h":5.2},{"p":"B4","m":"R","x":45,"y":2.4,"l":0,"h":5.0},{"p":"B4","m":"R","x":50,"y":2.25,"l":0,"h":4.8},{"p":"B4","m":"R","x":55,"y":2.3,"l":0,"h":4.6},{"p":"B4","m":"R","x":60,"y":2.25,"l":0,"h":4.5},{"p":"B4","m":"R","x":70,"y":2.15,"l":0,"h":4.3},{"p":"B4","m":"R","x":80,"y":2.0,"l":0,"h":4.1},{"p":"B4","m":"R","x":90,"y":1.85,"l":0,"h":4.2},{"p":"B4","m":"R","x":100,"y":1.7,"l":0,"h":4.0},
{"p":"B4","m":"H","x":16,"y":3.14,"l":0,"h":7.8},{"p":"B4","m":"H","x":19,"y":3.7,"l":0,"h":7.4},{"p":"B4","m":"H","x":21,"y":3.6,"l":0,"h":7.2},{"p":"B4","m":"H","x":24,"y":3.05,"l":0,"h":7.0},{"p":"B4","m":"H","x":26,"y":3.3,"l":0,"h":6.8},{"p":"B4","m":"H","x":28,"y":3.25,"l":0,"h":6.7},{"p":"B4","m":"H","x":31,"y":2.95,"l":0,"h":6.3},{"p":"B4","m":"H","x":34,"y":2.85,"l":0,"h":6.2},{"p":"B4","m":"H","x":37,"y":2.75,"l":0,"h":6.0},{"p":"B4","m":"H","x":40,"y":2.6,"l":0,"h":5.9},{"p":"B4","m":"H","x":43,"y":2.83,"l":0,"h":6.1},{"p":"B4","m":"H","x":46,"y":2.5,"l":0,"h":5.8},{"p":"B4","m":"H","x":49,"y":2.2,"l":0,"h":5.5},{"p":"B4","m":"H","x":53,"y":2.28,"l":0,"h":5.3},{"p":"B4","m":"H","x":58,"y":2.35,"l":0,"h":5.25},{"p":"B4","m":"H","x":62,"y":2.16,"l":0,"h":4.9},{"p":"B4","m":"H","x":65,"y":1.88,"l":0,"h":4.4},{"p":"B4","m":"H","x":68,"y":2.16,"l":0,"h":4.9},{"p":"B4","m":"H","x":72,"y":2.1,"l":0,"h":4.9},{"p":"B4","m":"H","x":79,"y":2.0,"l":0,"h":4.4},{"p":"B4","m":"H","x":81,"y":1.74,"l":0,"h":4.35},{"p":"B4","m":"H","x":85,"y":1.45,"l":0,"h":4.2},{"p":"B4","m":"H","x":90,"y":1.38,"l":0,"h":4.0},{"p":"B4","m":"H","x":96,"y":1.38,"l":0,"h":3.9},{"p":"B4","m":"H","x":98,"y":1.62,"l":0,"h":3.85},{"p":"B4","m":"H","x":100,"y":1.62,"l":0,"h":3.8},

{"p":"C1","m":"B","x":16,"y":0.026,"l":0.004,"h":0.04},{"p":"C1","m":"B","x":19,"y":0.0245,"l":0.002,"h":0.039},{"p":"C1","m":"B","x":22,"y":0.0232,"l":0.0005,"h":0.037},{"p":"C1","m":"B","x":25,"y":0.0225,"l":0,"h":0.036},{"p":"C1","m":"B","x":28,"y":0.022,"l":0,"h":0.035},{"p":"C1","m":"B","x":32,"y":0.0212,"l":0,"h":0.034},{"p":"C1","m":"B","x":36,"y":0.019,"l":0,"h":0.033},{"p":"C1","m":"B","x":40,"y":0.0182,"l":0,"h":0.032},{"p":"C1","m":"B","x":45,"y":0.0175,"l":0,"h":0.031},{"p":"C1","m":"B","x":50,"y":0.0165,"l":0,"h":0.03},{"p":"C1","m":"B","x":55,"y":0.016,"l":0,"h":0.029},{"p":"C1","m":"B","x":60,"y":0.0148,"l":0,"h":0.028},{"p":"C1","m":"B","x":70,"y":0.0135,"l":0,"h":0.027},{"p":"C1","m":"B","x":80,"y":0.0122,"l":0,"h":0.026},{"p":"C1","m":"B","x":90,"y":0.0113,"l":0,"h":0.025},{"p":"C1","m":"B","x":100,"y":0.0109,"l":0,"h":0.024},
{"p":"C1","m":"U","x":16,"y":0.026,"l":0.005,"h":0.06},{"p":"C1","m":"U","x":19,"y":0.0245,"l":0.003,"h":0.06},{"p":"C1","m":"U","x":22,"y":0.0232,"l":0.002,"h":0.06},{"p":"C1","m":"U","x":25,"y":0.0222,"l":0.001,"h":0.058},{"p":"C1","m":"U","x":28,"y":0.022,"l":0,"h":0.055},{"p":"C1","m":"U","x":32,"y":0.0208,"l":0,"h":0.053},{"p":"C1","m":"U","x":36,"y":0.0202,"l":0,"h":0.051},{"p":"C1","m":"U","x":40,"y":0.0195,"l":0,"h":0.05},{"p":"C1","m":"U","x":45,"y":0.0186,"l":0,"h":0.048},{"p":"C1","m":"U","x":50,"y":0.018,"l":0,"h":0.0456},{"p":"C1","m":"U","x":55,"y":0.0172,"l":0,"h":0.043},{"p":"C1","m":"U","x":60,"y":0.0165,"l":0,"h":0.041},{"p":"C1","m":"U","x":70,"y":0.0153,"l":0,"h":0.0388},{"p":"C1","m":"U","x":80,"y":0.0152,"l":0,"h":0.0365},{"p":"C1","m":"U","x":90,"y":0.014,"l":0,"h":0.036},{"p":"C1","m":"U","x":100,"y":0.0134,"l":0,"h":0.035},
{"p":"C1","m":"R","x":16,"y":0.047,"l":0.022,"h":0.071},{"p":"C1","m":"R","x":19,"y":0.0458,"l":0.021,"h":0.068},{"p":"C1","m":"R","x":22,"y":0.0445,"l":0.02,"h":0.067},{"p":"C1","m":"R","x":25,"y":0.043,"l":0.02,"h":0.067},{"p":"C1","m":"R","x":28,"y":0.042,"l":0.019,"h":0.066},{"p":"C1","m":"R","x":32,"y":0.04,"l":0.019,"h":0.064},{"p":"C1","m":"R","x":36,"y":0.037,"l":0.018,"h":0.062},{"p":"C1","m":"R","x":40,"y":0.036,"l":0.017,"h":0.059},{"p":"C1","m":"R","x":45,"y":0.0335,"l":0.016,"h":0.055},{"p":"C1","m":"R","x":50,"y":0.0305,"l":0.015,"h":0.05},{"p":"C1","m":"R","x":55,"y":0.03,"l":0.015,"h":0.046},{"p":"C1","m":"R","x":60,"y":0.0275,"l":0.014,"h":0.043},{"p":"C1","m":"R","x":70,"y":0.0265,"l":0.013,"h":0.04},{"p":"C1","m":"R","x":80,"y":0.025,"l":0.012,"h":0.038},{"p":"C1","m":"R","x":90,"y":0.024,"l":0.012,"h":0.037},{"p":"C1","m":"R","x":100,"y":0.024,"l":0.011,"h":0.036},
{"p":"C1","m":"H","x":16,"y":0.041,"l":0.03,"h":0.06},{"p":"C1","m":"H","x":18,"y":0.0448,"l":0.025,"h":0.06},{"p":"C1","m":"H","x":20,"y":0.0456,"l":0.02,"h":0.059},{"p":"C1","m":"H","x":22,"y":0.0448,"l":0.017,"h":0.058},{"p":"C1","m":"H","x":22.8,"y":0.0335,"l":0.017,"h":0.058},{"p":"C1","m":"H","x":25,"y":0.0335,"l":0.016,"h":0.057},{"p":"C1","m":"H","x":30,"y":0.0345,"l":0.016,"h":0.055},{"p":"C1","m":"H","x":35,"y":0.034,"l":0.016,"h":0.052},{"p":"C1","m":"H","x":40,"y":0.0335,"l":0.016,"h":0.05},{"p":"C1","m":"H","x":45,"y":0.033,"l":0.016,"h":0.048},{"p":"C1","m":"H","x":50,"y":0.032,"l":0.016,"h":0.046},{"p":"C1","m":"H","x":55,"y":0.0315,"l":0.016,"h":0.044},{"p":"C1","m":"H","x":60,"y":0.0298,"l":0.015,"h":0.044},{"p":"C1","m":"H","x":65,"y":0.03,"l":0.015,"h":0.044},{"p":"C1","m":"H","x":70,"y":0.0297,"l":0.015,"h":0.044},{"p":"C1","m":"H","x":75,"y":0.029,"l":0.015,"h":0.044},{"p":"C1","m":"H","x":80,"y":0.0278,"l":0.014,"h":0.044},{"p":"C1","m":"H","x":90,"y":0.0276,"l":0.014,"h":0.043},{"p":"C1","m":"H","x":96,"y":0.027,"l":0.013,"h":0.043},{"p":"C1","m":"H","x":100,"y":0.0273,"l":0.013,"h":0.042},

{"p":"C2","m":"B","x":16,"y":0.0425,"l":0.018,"h":0.065},{"p":"C2","m":"B","x":19,"y":0.038,"l":0.01,"h":0.06},{"p":"C2","m":"B","x":22,"y":0.034,"l":0.006,"h":0.055},{"p":"C2","m":"B","x":25,"y":0.03,"l":0.004,"h":0.05},{"p":"C2","m":"B","x":28,"y":0.027,"l":0.002,"h":0.046},{"p":"C2","m":"B","x":32,"y":0.0245,"l":0,"h":0.042},{"p":"C2","m":"B","x":36,"y":0.0205,"l":0,"h":0.038},{"p":"C2","m":"B","x":40,"y":0.019,"l":0,"h":0.035},{"p":"C2","m":"B","x":45,"y":0.0172,"l":0,"h":0.032},{"p":"C2","m":"B","x":50,"y":0.0155,"l":0,"h":0.029},{"p":"C2","m":"B","x":55,"y":0.014,"l":0,"h":0.027},{"p":"C2","m":"B","x":60,"y":0.0123,"l":0,"h":0.025},{"p":"C2","m":"B","x":70,"y":0.0115,"l":0,"h":0.022},{"p":"C2","m":"B","x":80,"y":0.0103,"l":0,"h":0.02},{"p":"C2","m":"B","x":90,"y":0.0092,"l":0,"h":0.019},{"p":"C2","m":"B","x":100,"y":0.0095,"l":0,"h":0.018},
{"p":"C2","m":"U","x":16,"y":0.0425,"l":0.02,"h":0.072},{"p":"C2","m":"U","x":19,"y":0.0395,"l":0.012,"h":0.07},{"p":"C2","m":"U","x":22,"y":0.034,"l":0.008,"h":0.068},{"p":"C2","m":"U","x":25,"y":0.0285,"l":0.006,"h":0.066},{"p":"C2","m":"U","x":28,"y":0.0274,"l":0.004,"h":0.063},{"p":"C2","m":"U","x":32,"y":0.024,"l":0.003,"h":0.058},{"p":"C2","m":"U","x":36,"y":0.02,"l":0.002,"h":0.054},{"p":"C2","m":"U","x":40,"y":0.019,"l":0.001,"h":0.051},{"p":"C2","m":"U","x":45,"y":0.0182,"l":0,"h":0.049},{"p":"C2","m":"U","x":50,"y":0.016,"l":0,"h":0.046},{"p":"C2","m":"U","x":55,"y":0.0146,"l":0,"h":0.044},{"p":"C2","m":"U","x":60,"y":0.0138,"l":0,"h":0.0425},{"p":"C2","m":"U","x":70,"y":0.0135,"l":0,"h":0.043},{"p":"C2","m":"U","x":80,"y":0.0123,"l":0,"h":0.039},{"p":"C2","m":"U","x":90,"y":0.0106,"l":0,"h":0.037},{"p":"C2","m":"U","x":100,"y":0.0092,"l":0,"h":0.0365},
{"p":"C2","m":"R","x":16,"y":0.088,"l":0.04,"h":0.11},{"p":"C2","m":"R","x":19,"y":0.085,"l":0.035,"h":0.11},{"p":"C2","m":"R","x":22,"y":0.08,"l":0.03,"h":0.11},{"p":"C2","m":"R","x":25,"y":0.075,"l":0.027,"h":0.105},{"p":"C2","m":"R","x":28,"y":0.069,"l":0.025,"h":0.1},{"p":"C2","m":"R","x":32,"y":0.058,"l":0.022,"h":0.088},{"p":"C2","m":"R","x":36,"y":0.051,"l":0.02,"h":0.084},{"p":"C2","m":"R","x":40,"y":0.048,"l":0.019,"h":0.076},{"p":"C2","m":"R","x":45,"y":0.042,"l":0.017,"h":0.072},{"p":"C2","m":"R","x":50,"y":0.041,"l":0.015,"h":0.068},{"p":"C2","m":"R","x":55,"y":0.037,"l":0.013,"h":0.064},{"p":"C2","m":"R","x":60,"y":0.035,"l":0.011,"h":0.065},{"p":"C2","m":"R","x":70,"y":0.035,"l":0.009,"h":0.06},{"p":"C2","m":"R","x":80,"y":0.031,"l":0.008,"h":0.052},{"p":"C2","m":"R","x":90,"y":0.028,"l":0.007,"h":0.045},{"p":"C2","m":"R","x":100,"y":0.0245,"l":0.0065,"h":0.049},
{"p":"C2","m":"H","x":16,"y":0.08,"l":0.062,"h":0.095},{"p":"C2","m":"H","x":17,"y":0.0714,"l":0.057,"h":0.093},{"p":"C2","m":"H","x":19,"y":0.061,"l":0.05,"h":0.09},{"p":"C2","m":"H","x":21,"y":0.0565,"l":0.046,"h":0.087},{"p":"C2","m":"H","x":23,"y":0.055,"l":0.044,"h":0.084},{"p":"C2","m":"H","x":25,"y":0.0524,"l":0.042,"h":0.081},{"p":"C2","m":"H","x":26,"y":0.054,"l":0.041,"h":0.08},{"p":"C2","m":"H","x":28,"y":0.0517,"l":0.039,"h":0.077},{"p":"C2","m":"H","x":32,"y":0.0509,"l":0.036,"h":0.072},{"p":"C2","m":"H","x":34,"y":0.0464,"l":0.034,"h":0.07},{"p":"C2","m":"H","x":38,"y":0.0465,"l":0.031,"h":0.066},{"p":"C2","m":"H","x":43,"y":0.045,"l":0.028,"h":0.061},{"p":"C2","m":"H","x":45,"y":0.038,"l":0.026,"h":0.058},{"p":"C2","m":"H","x":47,"y":0.0365,"l":0.024,"h":0.055},{"p":"C2","m":"H","x":49,"y":0.0334,"l":0.02,"h":0.05},{"p":"C2","m":"H","x":50,"y":0.0281,"l":0.017,"h":0.045},{"p":"C2","m":"H","x":55,"y":0.028,"l":0.016,"h":0.044},{"p":"C2","m":"H","x":60,"y":0.0288,"l":0.016,"h":0.043},{"p":"C2","m":"H","x":66,"y":0.0275,"l":0.015,"h":0.042},{"p":"C2","m":"H","x":70,"y":0.0285,"l":0.015,"h":0.041},{"p":"C2","m":"H","x":76,"y":0.0262,"l":0.014,"h":0.04},{"p":"C2","m":"H","x":85,"y":0.0245,"l":0.013,"h":0.039},{"p":"C2","m":"H","x":96,"y":0.0243,"l":0.012,"h":0.037},{"p":"C2","m":"H","x":97,"y":0.0223,"l":0.012,"h":0.036},{"p":"C2","m":"H","x":100,"y":0.0223,"l":0.012,"h":0.036},

{"p":"C3","m":"B","x":16,"y":0.066,"l":0.045,"h":0.075},{"p":"C3","m":"B","x":19,"y":0.0535,"l":0.034,"h":0.07},{"p":"C3","m":"B","x":22,"y":0.05,"l":0.026,"h":0.066},{"p":"C3","m":"B","x":25,"y":0.044,"l":0.02,"h":0.062},{"p":"C3","m":"B","x":28,"y":0.039,"l":0.016,"h":0.058},{"p":"C3","m":"B","x":32,"y":0.0355,"l":0.012,"h":0.054},{"p":"C3","m":"B","x":36,"y":0.031,"l":0.01,"h":0.05},{"p":"C3","m":"B","x":40,"y":0.0275,"l":0.0085,"h":0.047},{"p":"C3","m":"B","x":45,"y":0.026,"l":0.0072,"h":0.044},{"p":"C3","m":"B","x":50,"y":0.021,"l":0.006,"h":0.041},{"p":"C3","m":"B","x":55,"y":0.019,"l":0.005,"h":0.038},{"p":"C3","m":"B","x":60,"y":0.018,"l":0.0042,"h":0.036},{"p":"C3","m":"B","x":70,"y":0.0155,"l":0.003,"h":0.033},{"p":"C3","m":"B","x":80,"y":0.014,"l":0.0025,"h":0.031},{"p":"C3","m":"B","x":90,"y":0.0122,"l":0.0022,"h":0.029},{"p":"C3","m":"B","x":100,"y":0.011,"l":0.002,"h":0.028},
{"p":"C3","m":"U","x":16,"y":0.064,"l":0.041,"h":0.078},{"p":"C3","m":"U","x":19,"y":0.055,"l":0.031,"h":0.076},{"p":"C3","m":"U","x":22,"y":0.046,"l":0.023,"h":0.075},{"p":"C3","m":"U","x":25,"y":0.041,"l":0.017,"h":0.074},{"p":"C3","m":"U","x":28,"y":0.037,"l":0.0135,"h":0.072},{"p":"C3","m":"U","x":32,"y":0.032,"l":0.01,"h":0.068},{"p":"C3","m":"U","x":36,"y":0.028,"l":0.0085,"h":0.064},{"p":"C3","m":"U","x":40,"y":0.027,"l":0.007,"h":0.061},{"p":"C3","m":"U","x":45,"y":0.0252,"l":0.006,"h":0.058},{"p":"C3","m":"U","x":50,"y":0.023,"l":0.0048,"h":0.055},{"p":"C3","m":"U","x":55,"y":0.0198,"l":0.004,"h":0.052},{"p":"C3","m":"U","x":60,"y":0.0182,"l":0.0033,"h":0.049},{"p":"C3","m":"U","x":70,"y":0.0152,"l":0.0022,"h":0.046},{"p":"C3","m":"U","x":80,"y":0.0146,"l":0.0018,"h":0.044},{"p":"C3","m":"U","x":90,"y":0.0144,"l":0.0015,"h":0.0425},{"p":"C3","m":"U","x":100,"y":0.0141,"l":0.0015,"h":0.0418},
{"p":"C3","m":"R","x":16,"y":0.095,"l":0.06,"h":0.12},{"p":"C3","m":"R","x":19,"y":0.086,"l":0.055,"h":0.115},{"p":"C3","m":"R","x":22,"y":0.082,"l":0.05,"h":0.11},{"p":"C3","m":"R","x":25,"y":0.081,"l":0.047,"h":0.108},{"p":"C3","m":"R","x":28,"y":0.082,"l":0.044,"h":0.105},{"p":"C3","m":"R","x":32,"y":0.077,"l":0.041,"h":0.102},{"p":"C3","m":"R","x":36,"y":0.072,"l":0.038,"h":0.1},{"p":"C3","m":"R","x":40,"y":0.068,"l":0.035,"h":0.092},{"p":"C3","m":"R","x":45,"y":0.063,"l":0.033,"h":0.085},{"p":"C3","m":"R","x":50,"y":0.058,"l":0.031,"h":0.076},{"p":"C3","m":"R","x":55,"y":0.05,"l":0.029,"h":0.068},{"p":"C3","m":"R","x":60,"y":0.045,"l":0.027,"h":0.0615},{"p":"C3","m":"R","x":70,"y":0.042,"l":0.025,"h":0.059},{"p":"C3","m":"R","x":80,"y":0.04,"l":0.024,"h":0.054},{"p":"C3","m":"R","x":90,"y":0.0375,"l":0.023,"h":0.049},{"p":"C3","m":"R","x":100,"y":0.0357,"l":0.022,"h":0.045},
{"p":"C3","m":"H","x":16,"y":0.066,"l":0.045,"h":0.08},{"p":"C3","m":"H","x":18,"y":0.0653,"l":0.045,"h":0.08},{"p":"C3","m":"H","x":19.5,"y":0.0625,"l":0.044,"h":0.079},{"p":"C3","m":"H","x":22,"y":0.0635,"l":0.043,"h":0.078},{"p":"C3","m":"H","x":25,"y":0.0635,"l":0.043,"h":0.078},{"p":"C3","m":"H","x":25.6,"y":0.0486,"l":0.0228,"h":0.065},{"p":"C3","m":"H","x":28,"y":0.0483,"l":0.0228,"h":0.064},{"p":"C3","m":"H","x":31,"y":0.0464,"l":0.0228,"h":0.062},{"p":"C3","m":"H","x":34,"y":0.0438,"l":0.0228,"h":0.06},{"p":"C3","m":"H","x":40,"y":0.0412,"l":0.0228,"h":0.058},{"p":"C3","m":"H","x":44,"y":0.0395,"l":0.0228,"h":0.056},{"p":"C3","m":"H","x":46,"y":0.041,"l":0.0228,"h":0.055},{"p":"C3","m":"H","x":55,"y":0.041,"l":0.0228,"h":0.052},{"p":"C3","m":"H","x":60,"y":0.0397,"l":0.0228,"h":0.05},{"p":"C3","m":"H","x":63,"y":0.0365,"l":0.023,"h":0.049},{"p":"C3","m":"H","x":70,"y":0.0352,"l":0.023,"h":0.047},{"p":"C3","m":"H","x":80,"y":0.035,"l":0.023,"h":0.045},{"p":"C3","m":"H","x":90,"y":0.0342,"l":0.023,"h":0.044},{"p":"C3","m":"H","x":100,"y":0.0334,"l":0.023,"h":0.043},

{"p":"C4","m":"B","x":16,"y":0.055,"l":0.04,"h":0.07},{"p":"C4","m":"B","x":19,"y":0.05,"l":0.03,"h":0.066},{"p":"C4","m":"B","x":22,"y":0.043,"l":0.024,"h":0.062},{"p":"C4","m":"B","x":25,"y":0.035,"l":0.019,"h":0.058},{"p":"C4","m":"B","x":28,"y":0.031,"l":0.016,"h":0.055},{"p":"C4","m":"B","x":32,"y":0.027,"l":0.012,"h":0.051},{"p":"C4","m":"B","x":36,"y":0.0255,"l":0.01,"h":0.048},{"p":"C4","m":"B","x":40,"y":0.022,"l":0.0085,"h":0.045},{"p":"C4","m":"B","x":45,"y":0.0205,"l":0.0068,"h":0.042},{"p":"C4","m":"B","x":50,"y":0.019,"l":0.0055,"h":0.039},{"p":"C4","m":"B","x":55,"y":0.0182,"l":0.0045,"h":0.036},{"p":"C4","m":"B","x":60,"y":0.0162,"l":0.0035,"h":0.034},{"p":"C4","m":"B","x":70,"y":0.0145,"l":0.002,"h":0.031},{"p":"C4","m":"B","x":80,"y":0.0122,"l":0.001,"h":0.029},{"p":"C4","m":"B","x":90,"y":0.0113,"l":0.0005,"h":0.027},{"p":"C4","m":"B","x":100,"y":0.0109,"l":0,"h":0.026},
{"p":"C4","m":"U","x":16,"y":0.053,"l":0.038,"h":0.077},{"p":"C4","m":"U","x":19,"y":0.049,"l":0.028,"h":0.072},{"p":"C4","m":"U","x":22,"y":0.045,"l":0.022,"h":0.069},{"p":"C4","m":"U","x":25,"y":0.0375,"l":0.0175,"h":0.066},{"p":"C4","m":"U","x":28,"y":0.0315,"l":0.0145,"h":0.063},{"p":"C4","m":"U","x":32,"y":0.028,"l":0.011,"h":0.059},{"p":"C4","m":"U","x":36,"y":0.025,"l":0.009,"h":0.057},{"p":"C4","m":"U","x":40,"y":0.0225,"l":0.0078,"h":0.0555},{"p":"C4","m":"U","x":45,"y":0.0205,"l":0.006,"h":0.053},{"p":"C4","m":"U","x":50,"y":0.0195,"l":0.005,"h":0.05},{"p":"C4","m":"U","x":55,"y":0.0172,"l":0.004,"h":0.048},{"p":"C4","m":"U","x":60,"y":0.016,"l":0.003,"h":0.046},{"p":"C4","m":"U","x":70,"y":0.0149,"l":0.0018,"h":0.043},{"p":"C4","m":"U","x":80,"y":0.0141,"l":0.0008,"h":0.037},{"p":"C4","m":"U","x":90,"y":0.0142,"l":0.0003,"h":0.033},{"p":"C4","m":"U","x":100,"y":0.0134,"l":0,"h":0.029},
{"p":"C4","m":"R","x":16,"y":0.091,"l":0.065,"h":0.11},{"p":"C4","m":"R","x":19,"y":0.082,"l":0.06,"h":0.108},{"p":"C4","m":"R","x":22,"y":0.079,"l":0.055,"h":0.105},{"p":"C4","m":"R","x":25,"y":0.0765,"l":0.05,"h":0.102},{"p":"C4","m":"R","x":28,"y":0.072,"l":0.045,"h":0.1},{"p":"C4","m":"R","x":32,"y":0.066,"l":0.04,"h":0.092},{"p":"C4","m":"R","x":36,"y":0.062,"l":0.037,"h":0.085},{"p":"C4","m":"R","x":40,"y":0.058,"l":0.034,"h":0.08},{"p":"C4","m":"R","x":45,"y":0.0545,"l":0.031,"h":0.076},{"p":"C4","m":"R","x":50,"y":0.051,"l":0.029,"h":0.074},{"p":"C4","m":"R","x":55,"y":0.048,"l":0.027,"h":0.07},{"p":"C4","m":"R","x":60,"y":0.047,"l":0.026,"h":0.066},{"p":"C4","m":"R","x":70,"y":0.0425,"l":0.024,"h":0.062},{"p":"C4","m":"R","x":80,"y":0.0398,"l":0.023,"h":0.058},{"p":"C4","m":"R","x":90,"y":0.0365,"l":0.022,"h":0.053},{"p":"C4","m":"R","x":100,"y":0.0355,"l":0.021,"h":0.05},
{"p":"C4","m":"H","x":16,"y":0.0562,"l":0.04,"h":0.075},{"p":"C4","m":"H","x":18,"y":0.054,"l":0.04,"h":0.074},{"p":"C4","m":"H","x":20,"y":0.048,"l":0.039,"h":0.072},{"p":"C4","m":"H","x":25,"y":0.0471,"l":0.038,"h":0.07},{"p":"C4","m":"H","x":25.8,"y":0.057,"l":0.045,"h":0.075},{"p":"C4","m":"H","x":28,"y":0.0555,"l":0.044,"h":0.074},{"p":"C4","m":"H","x":32,"y":0.0562,"l":0.043,"h":0.073},{"p":"C4","m":"H","x":40,"y":0.0548,"l":0.041,"h":0.07},{"p":"C4","m":"H","x":44,"y":0.054,"l":0.04,"h":0.068},{"p":"C4","m":"H","x":46,"y":0.0524,"l":0.039,"h":0.067},{"p":"C4","m":"H","x":48,"y":0.0479,"l":0.036,"h":0.065},{"p":"C4","m":"H","x":50,"y":0.0445,"l":0.034,"h":0.063},{"p":"C4","m":"H","x":54,"y":0.0448,"l":0.033,"h":0.061},{"p":"C4","m":"H","x":58,"y":0.0432,"l":0.032,"h":0.06},{"p":"C4","m":"H","x":61,"y":0.0403,"l":0.031,"h":0.058},{"p":"C4","m":"H","x":64,"y":0.0395,"l":0.03,"h":0.057},{"p":"C4","m":"H","x":68,"y":0.041,"l":0.03,"h":0.056},{"p":"C4","m":"H","x":74,"y":0.041,"l":0.029,"h":0.055},{"p":"C4","m":"H","x":74.8,"y":0.035,"l":0.022,"h":0.047},{"p":"C4","m":"H","x":79,"y":0.0345,"l":0.022,"h":0.045},{"p":"C4","m":"H","x":80.5,"y":0.0243,"l":0.013,"h":0.036},{"p":"C4","m":"H","x":84,"y":0.025,"l":0.013,"h":0.036},{"p":"C4","m":"H","x":90,"y":0.0228,"l":0.013,"h":0.035},{"p":"C4","m":"H","x":100,"y":0.0228,"l":0.013,"h":0.034}
]},
"columns":4,
"bounds":"flush",
"spacing":{"row":47,"column":55},
"concat":[
{"width":241,"height":220,"title":{"text":"Older-Normal","offset":-3},"transform":[{"filter":"datum.p=='A1'"}],"layer":[
{"mark":{"type":"area","opacity":0.27,"clip":true},"encoding":{"x":{"field":"x","type":"quantitative","scale":{"domain":[16,100],"nice":false},"axis":{"values":[20,30,40,50,60,70,80,90,100],"labels":false,"title":null}},"y":{"field":"l","type":"quantitative","stack":null,"scale":{"domain":[0,8],"nice":false},"axis":{"values":[0,1,2,3,4,5,6,7,8],"labelExpr":"datum.value % 2 == 0 ? datum.label : ''","title":"Error in α (dB)","titlePadding":19}},"y2":{"field":"h"},"fill":{"field":"m","type":"nominal","scale":{"domain":["B","U","H","R","R"],"range":["#2f8cf0","#e8401c","#f0b000","#7b2ff7"]},"legend":null}}},
{"mark":{"type":"line","strokeWidth":2.5,"clip":true},"encoding":{"x":{"field":"x","type":"quantitative"},"y":{"field":"y","type":"quantitative","title":"Error in α (dB)"},"color":{"field":"m","type":"nominal","scale":{"domain":["B","U","H","R"],"range":["#2f8cf0","#e8401c","#f0b000","#7b2ff7"]},"legend":null},"strokeDash":{"field":"m","type":"nominal","scale":{"domain":["B","U","H","R"],"range":[[12,5],[10,4,2,4],[1,0],[2,7]]},"legend":null}}},
{"data":{"values":[{"t":"A1"}]},"mark":{"type":"text","align":"left","baseline":"top","dx":5,"dy":4,"fontSize":28},"encoding":{"x":{"datum":16,"type":"quantitative"},"y":{"datum":8,"type":"quantitative"},"text":{"field":"t"}}}
]},
{"width":241,"height":220,"title":"Metabolic","transform":[{"filter":"datum.p=='A2'"}],"layer":[
{"mark":{"type":"area","opacity":0.27,"clip":true},"encoding":{"x":{"field":"x","type":"quantitative","scale":{"domain":[16,100],"nice":false},"axis":{"values":[20,30,40,50,60,70,80,90,100],"labels":false,"title":null}},"y":{"field":"l","type":"quantitative","stack":null,"scale":{"domain":[0,8],"nice":false},"axis":{"values":[0,1,2,3,4,5,6,7,8],"labels":false,"title":null}},"y2":{"field":"h"},"fill":{"field":"m","type":"nominal","scale":{"domain":["B","U","H","R","R"],"range":["#2f8cf0","#e8401c","#f0b000","#7b2ff7"]},"legend":null}}},
{"mark":{"type":"line","strokeWidth":2.5,"clip":true},"encoding":{"x":{"field":"x","type":"quantitative"},"y":{"field":"y","type":"quantitative","title":null},"color":{"field":"m","type":"nominal","scale":{"domain":["B","U","H","R"],"range":["#2f8cf0","#e8401c","#f0b000","#7b2ff7"]},"legend":null},"strokeDash":{"field":"m","type":"nominal","scale":{"domain":["B","U","H","R"],"range":[[12,5],[10,4,2,4],[1,0],[2,7]]},"legend":null}}},
{"data":{"values":[{"t":"A2"}]},"mark":{"type":"text","align":"left","baseline":"top","dx":5,"dy":4,"fontSize":28},"encoding":{"x":{"datum":16,"type":"quantitative"},"y":{"datum":8,"type":"quantitative"},"text":{"field":"t"}}}
]},
{"width":241,"height":220,"title":"Sensory","transform":[{"filter":"datum.p=='A3'"}],"layer":[
{"mark":{"type":"area","opacity":0.27,"clip":true},"encoding":{"x":{"field":"x","type":"quantitative","scale":{"domain":[16,100],"nice":false},"axis":{"values":[20,30,40,50,60,70,80,90,100],"labels":false,"title":null}},"y":{"field":"l","type":"quantitative","stack":null,"scale":{"domain":[0,8],"nice":false},"axis":{"values":[0,1,2,3,4,5,6,7,8],"labels":false,"title":null}},"y2":{"field":"h"},"fill":{"field":"m","type":"nominal","scale":{"domain":["B","U","H","R","R"],"range":["#2f8cf0","#e8401c","#f0b000","#7b2ff7"]},"legend":null}}},
{"mark":{"type":"line","strokeWidth":2.5,"clip":true},"encoding":{"x":{"field":"x","type":"quantitative"},"y":{"field":"y","type":"quantitative","title":null},"color":{"field":"m","type":"nominal","scale":{"domain":["B","U","H","R"],"range":["#2f8cf0","#e8401c","#f0b000","#7b2ff7"]},"legend":null},"strokeDash":{"field":"m","type":"nominal","scale":{"domain":["B","U","H","R"],"range":[[12,5],[10,4,2,4],[1,0],[2,7]]},"legend":null}}},
{"data":{"values":[{"t":"A3"}]},"mark":{"type":"text","align":"left","baseline":"top","dx":5,"dy":4,"fontSize":28},"encoding":{"x":{"datum":16,"type":"quantitative"},"y":{"datum":8,"type":"quantitative"},"text":{"field":"t"}}}
]},
{"width":241,"height":220,"title":"Metabolic + sensory","transform":[{"filter":"datum.p=='A4'"}],"layer":[
{"mark":{"type":"area","opacity":0.27,"clip":true},"encoding":{"x":{"field":"x","type":"quantitative","scale":{"domain":[16,100],"nice":false},"axis":{"values":[20,30,40,50,60,70,80,90,100],"labels":false,"title":null}},"y":{"field":"l","type":"quantitative","stack":null,"scale":{"domain":[0,8],"nice":false},"axis":{"values":[0,1,2,3,4,5,6,7,8],"labels":false,"title":null}},"y2":{"field":"h"},"fill":{"field":"m","type":"nominal","scale":{"domain":["B","U","H","R","R"],"range":["#2f8cf0","#e8401c","#f0b000","#7b2ff7"]},"legend":null}}},
{"mark":{"type":"line","strokeWidth":2.5,"clip":true},"encoding":{"x":{"field":"x","type":"quantitative"},"y":{"field":"y","type":"quantitative","title":null},"color":{"field":"m","type":"nominal","scale":{"domain":["B","U","H","R"],"range":["#2f8cf0","#e8401c","#f0b000","#7b2ff7"]},"legend":null},"strokeDash":{"field":"m","type":"nominal","scale":{"domain":["B","U","H","R"],"range":[[12,5],[10,4,2,4],[1,0],[2,7]]},"legend":null}}},
{"data":{"values":[{"t":"A4"}]},"mark":{"type":"text","align":"left","baseline":"top","dx":5,"dy":4,"fontSize":28},"encoding":{"x":{"datum":16,"type":"quantitative"},"y":{"datum":8,"type":"quantitative"},"text":{"field":"t"}}}
]},
{"width":241,"height":220,"transform":[{"filter":"datum.p=='B1'"}],"layer":[
{"mark":{"type":"area","opacity":0.27,"clip":true},"encoding":{"x":{"field":"x","type":"quantitative","scale":{"domain":[16,100],"nice":false},"axis":{"values":[20,30,40,50,60,70,80,90,100],"labels":false,"title":null}},"y":{"field":"l","type":"quantitative","stack":null,"scale":{"domain":[0,8],"nice":false},"axis":{"values":[0,1,2,3,4,5,6,7,8],"labelExpr":"datum.value % 2 == 0 ? datum.label : ''","title":"Error in β (dB/%)","titlePadding":19}},"y2":{"field":"h"},"fill":{"field":"m","type":"nominal","scale":{"domain":["B","U","H","R","R"],"range":["#2f8cf0","#e8401c","#f0b000","#7b2ff7"]},"legend":{"title":null,"orient":"none","legendX":57,"legendY":3,"direction":"horizontal","columns":2,"symbolType":"M-2.5,-0.75H2.5V0.75H-2.5Z","symbolSize":256,"symbolOpacity":0.3,"symbolStrokeWidth":2.5,"symbolStrokeColor":"transparent","labelFont":"Liberation Sans","labelFontSize":15,"labelFontWeight":"bold","labelOpacity":0,"labelOffset":17,"labelLimit":300,"rowPadding":3.5,"columnPadding":48,"padding":0,"labelExpr":"datum.label=='U' ? '                    ' : '           '"}}}},
{"mark":{"type":"line","strokeWidth":2.5,"clip":true},"encoding":{"x":{"field":"x","type":"quantitative"},"y":{"field":"y","type":"quantitative","title":"Error in β (dB/%)"},"color":{"field":"m","type":"nominal","scale":{"domain":["B","U","H","R"],"range":["#2f8cf0","#e8401c","#f0b000","#7b2ff7"]},"legend":{"title":null,"orient":"none","legendX":57,"legendY":3,"direction":"horizontal","columns":2,"symbolType":"M-2.5,0H2.5","symbolSize":256,"symbolStrokeWidth":2.5,"labelFont":"Liberation Sans","labelFontSize":15,"labelFontWeight":"bold","labelColor":"#000","labelOffset":17,"labelLimit":300,"rowPadding":3.5,"columnPadding":2,"padding":0,"labelExpr":"datum.label=='B'?'BALD':datum.label=='U'?'Uncertainty':datum.label=='H'?'Halton':'Random'"}},"strokeDash":{"field":"m","type":"nominal","scale":{"domain":["B","U","H","R"],"range":[[12,5],[10,4,2,4],[1,0],[2,7]]},"legend":{"title":null,"orient":"none","legendX":57,"legendY":3,"direction":"horizontal","columns":2,"symbolType":"M-2.5,0H2.5","symbolSize":256,"symbolStrokeWidth":2.5,"labelFont":"Liberation Sans","labelFontSize":15,"labelFontWeight":"bold","labelColor":"#000","labelOffset":17,"labelLimit":300,"rowPadding":3.5,"columnPadding":2,"padding":0,"labelExpr":"datum.label=='B'?'BALD':datum.label=='U'?'Uncertainty':datum.label=='H'?'Halton':'Random'"}}}},
{"data":{"values":[{"t":"B1"}]},"mark":{"type":"text","align":"left","baseline":"top","dx":5,"dy":4,"fontSize":28},"encoding":{"x":{"datum":16,"type":"quantitative"},"y":{"datum":8,"type":"quantitative"},"text":{"field":"t"}}}
]},
{"width":241,"height":220,"transform":[{"filter":"datum.p=='B2'"}],"layer":[
{"mark":{"type":"area","opacity":0.27,"clip":true},"encoding":{"x":{"field":"x","type":"quantitative","scale":{"domain":[16,100],"nice":false},"axis":{"values":[20,30,40,50,60,70,80,90,100],"labels":false,"title":null}},"y":{"field":"l","type":"quantitative","stack":null,"scale":{"domain":[0,8],"nice":false},"axis":{"values":[0,1,2,3,4,5,6,7,8],"labels":false,"title":null}},"y2":{"field":"h"},"fill":{"field":"m","type":"nominal","scale":{"domain":["B","U","H","R","R"],"range":["#2f8cf0","#e8401c","#f0b000","#7b2ff7"]},"legend":null}}},
{"mark":{"type":"line","strokeWidth":2.5,"clip":true},"encoding":{"x":{"field":"x","type":"quantitative"},"y":{"field":"y","type":"quantitative","title":null},"color":{"field":"m","type":"nominal","scale":{"domain":["B","U","H","R"],"range":["#2f8cf0","#e8401c","#f0b000","#7b2ff7"]},"legend":null},"strokeDash":{"field":"m","type":"nominal","scale":{"domain":["B","U","H","R"],"range":[[12,5],[10,4,2,4],[1,0],[2,7]]},"legend":null}}},
{"data":{"values":[{"t":"B2"}]},"mark":{"type":"text","align":"left","baseline":"top","dx":5,"dy":4,"fontSize":28},"encoding":{"x":{"datum":16,"type":"quantitative"},"y":{"datum":8,"type":"quantitative"},"text":{"field":"t"}}}
]},
{"width":241,"height":220,"transform":[{"filter":"datum.p=='B3'"}],"layer":[
{"mark":{"type":"area","opacity":0.27,"clip":true},"encoding":{"x":{"field":"x","type":"quantitative","scale":{"domain":[16,100],"nice":false},"axis":{"values":[20,30,40,50,60,70,80,90,100],"labels":false,"title":null}},"y":{"field":"l","type":"quantitative","stack":null,"scale":{"domain":[0,8],"nice":false},"axis":{"values":[0,1,2,3,4,5,6,7,8],"labels":false,"title":null}},"y2":{"field":"h"},"fill":{"field":"m","type":"nominal","scale":{"domain":["B","U","H","R","R"],"range":["#2f8cf0","#e8401c","#f0b000","#7b2ff7"]},"legend":null}}},
{"mark":{"type":"line","strokeWidth":2.5,"clip":true},"encoding":{"x":{"field":"x","type":"quantitative"},"y":{"field":"y","type":"quantitative","title":null},"color":{"field":"m","type":"nominal","scale":{"domain":["B","U","H","R"],"range":["#2f8cf0","#e8401c","#f0b000","#7b2ff7"]},"legend":null},"strokeDash":{"field":"m","type":"nominal","scale":{"domain":["B","U","H","R"],"range":[[12,5],[10,4,2,4],[1,0],[2,7]]},"legend":null}}},
{"data":{"values":[{"t":"B3"}]},"mark":{"type":"text","align":"left","baseline":"top","dx":5,"dy":4,"fontSize":28},"encoding":{"x":{"datum":16,"type":"quantitative"},"y":{"datum":8,"type":"quantitative"},"text":{"field":"t"}}}
]},
{"width":241,"height":220,"transform":[{"filter":"datum.p=='B4'"}],"layer":[
{"mark":{"type":"area","opacity":0.27,"clip":true},"encoding":{"x":{"field":"x","type":"quantitative","scale":{"domain":[16,100],"nice":false},"axis":{"values":[20,30,40,50,60,70,80,90,100],"labels":false,"title":null}},"y":{"field":"l","type":"quantitative","stack":null,"scale":{"domain":[0,8],"nice":false},"axis":{"values":[0,1,2,3,4,5,6,7,8],"labels":false,"title":null}},"y2":{"field":"h"},"fill":{"field":"m","type":"nominal","scale":{"domain":["B","U","H","R","R"],"range":["#2f8cf0","#e8401c","#f0b000","#7b2ff7"]},"legend":null}}},
{"mark":{"type":"line","strokeWidth":2.5,"clip":true},"encoding":{"x":{"field":"x","type":"quantitative"},"y":{"field":"y","type":"quantitative","title":null},"color":{"field":"m","type":"nominal","scale":{"domain":["B","U","H","R"],"range":["#2f8cf0","#e8401c","#f0b000","#7b2ff7"]},"legend":null},"strokeDash":{"field":"m","type":"nominal","scale":{"domain":["B","U","H","R"],"range":[[12,5],[10,4,2,4],[1,0],[2,7]]},"legend":null}}},
{"data":{"values":[{"t":"B4"}]},"mark":{"type":"text","align":"left","baseline":"top","dx":5,"dy":4,"fontSize":28},"encoding":{"x":{"datum":16,"type":"quantitative"},"y":{"datum":8,"type":"quantitative"},"text":{"field":"t"}}}
]},
{"width":241,"height":220,"transform":[{"filter":"datum.p=='C1'"}],"layer":[
{"mark":{"type":"area","opacity":0.27,"clip":true},"encoding":{"x":{"field":"x","type":"quantitative","scale":{"domain":[16,100],"nice":false},"axis":{"values":[20,30,40,50,60,70,80,90,100],"labelExpr":"datum.value % 20 == 0 ? datum.label : ''","title":null}},"y":{"field":"l","type":"quantitative","stack":null,"scale":{"domain":[0,0.1],"nice":false},"axis":{"values":[0,0.01,0.02,0.03,0.04,0.05,0.06,0.07,0.08,0.09,0.1],"labelExpr":"datum.value == 0 ? '0' : round(datum.value*100) % 2 == 0 ? replace(format(datum.value, '.2~f'), '0.', '.') : ''","title":"Mean Difference","titlePadding":0}},"y2":{"field":"h"},"fill":{"field":"m","type":"nominal","scale":{"domain":["B","U","H","R","R"],"range":["#2f8cf0","#e8401c","#f0b000","#7b2ff7"]},"legend":null}}},
{"mark":{"type":"line","strokeWidth":2.5,"clip":true},"encoding":{"x":{"field":"x","type":"quantitative","title":null},"y":{"field":"y","type":"quantitative","title":"Mean Difference"},"color":{"field":"m","type":"nominal","scale":{"domain":["B","U","H","R"],"range":["#2f8cf0","#e8401c","#f0b000","#7b2ff7"]},"legend":null},"strokeDash":{"field":"m","type":"nominal","scale":{"domain":["B","U","H","R"],"range":[[12,5],[10,4,2,4],[1,0],[2,7]]},"legend":null}}},
{"data":{"values":[{"t":"C1"}]},"mark":{"type":"text","align":"left","baseline":"top","dx":5,"dy":4,"fontSize":28},"encoding":{"x":{"datum":16,"type":"quantitative"},"y":{"datum":0.1,"type":"quantitative"},"text":{"field":"t"}}}
]},
{"width":241,"height":220,"transform":[{"filter":"datum.p=='C2'"}],"layer":[
{"mark":{"type":"area","opacity":0.27,"clip":true},"encoding":{"x":{"field":"x","type":"quantitative","scale":{"domain":[16,100],"nice":false},"axis":{"values":[20,30,40,50,60,70,80,90,100],"labelExpr":"datum.value % 20 == 0 ? datum.label : ''","title":null}},"y":{"field":"l","type":"quantitative","stack":null,"scale":{"domain":[0,0.1],"nice":false},"axis":{"values":[0,0.01,0.02,0.03,0.04,0.05,0.06,0.07,0.08,0.09,0.1],"labels":false,"title":null}},"y2":{"field":"h"},"fill":{"field":"m","type":"nominal","scale":{"domain":["B","U","H","R","R"],"range":["#2f8cf0","#e8401c","#f0b000","#7b2ff7"]},"legend":null}}},
{"mark":{"type":"line","strokeWidth":2.5,"clip":true},"encoding":{"x":{"field":"x","type":"quantitative","title":null},"y":{"field":"y","type":"quantitative","title":null},"color":{"field":"m","type":"nominal","scale":{"domain":["B","U","H","R"],"range":["#2f8cf0","#e8401c","#f0b000","#7b2ff7"]},"legend":null},"strokeDash":{"field":"m","type":"nominal","scale":{"domain":["B","U","H","R"],"range":[[12,5],[10,4,2,4],[1,0],[2,7]]},"legend":null}}},
{"data":{"values":[{"t":"C2"}]},"mark":{"type":"text","align":"left","baseline":"top","dx":5,"dy":4,"fontSize":28},"encoding":{"x":{"datum":16,"type":"quantitative"},"y":{"datum":0.1,"type":"quantitative"},"text":{"field":"t"}}}
]},
{"width":241,"height":220,"transform":[{"filter":"datum.p=='C3'"}],"layer":[
{"mark":{"type":"area","opacity":0.27,"clip":true},"encoding":{"x":{"field":"x","type":"quantitative","scale":{"domain":[16,100],"nice":false},"axis":{"values":[20,30,40,50,60,70,80,90,100],"labelExpr":"datum.value % 20 == 0 ? datum.label : ''","title":null}},"y":{"field":"l","type":"quantitative","stack":null,"scale":{"domain":[0,0.1],"nice":false},"axis":{"values":[0,0.01,0.02,0.03,0.04,0.05,0.06,0.07,0.08,0.09,0.1],"labels":false,"title":null}},"y2":{"field":"h"},"fill":{"field":"m","type":"nominal","scale":{"domain":["B","U","H","R","R"],"range":["#2f8cf0","#e8401c","#f0b000","#7b2ff7"]},"legend":null}}},
{"mark":{"type":"line","strokeWidth":2.5,"clip":true},"encoding":{"x":{"field":"x","type":"quantitative","title":null},"y":{"field":"y","type":"quantitative","title":null},"color":{"field":"m","type":"nominal","scale":{"domain":["B","U","H","R"],"range":["#2f8cf0","#e8401c","#f0b000","#7b2ff7"]},"legend":null},"strokeDash":{"field":"m","type":"nominal","scale":{"domain":["B","U","H","R"],"range":[[12,5],[10,4,2,4],[1,0],[2,7]]},"legend":null}}},
{"data":{"values":[{"t":"C3"}]},"mark":{"type":"text","align":"left","baseline":"top","dx":5,"dy":4,"fontSize":28},"encoding":{"x":{"datum":16,"type":"quantitative"},"y":{"datum":0.1,"type":"quantitative"},"text":{"field":"t"}}}
]},
{"width":241,"height":220,"transform":[{"filter":"datum.p=='C4'"}],"layer":[
{"mark":{"type":"area","opacity":0.27,"clip":true},"encoding":{"x":{"field":"x","type":"quantitative","scale":{"domain":[16,100],"nice":false},"axis":{"values":[20,30,40,50,60,70,80,90,100],"labelExpr":"datum.value % 20 == 0 ? datum.label : ''","title":null}},"y":{"field":"l","type":"quantitative","stack":null,"scale":{"domain":[0,0.1],"nice":false},"axis":{"values":[0,0.01,0.02,0.03,0.04,0.05,0.06,0.07,0.08,0.09,0.1],"labels":false,"title":null}},"y2":{"field":"h"},"fill":{"field":"m","type":"nominal","scale":{"domain":["B","U","H","R","R"],"range":["#2f8cf0","#e8401c","#f0b000","#7b2ff7"]},"legend":null}}},
{"mark":{"type":"line","strokeWidth":2.5,"clip":true},"encoding":{"x":{"field":"x","type":"quantitative","title":null},"y":{"field":"y","type":"quantitative","title":null},"color":{"field":"m","type":"nominal","scale":{"domain":["B","U","H","R"],"range":["#2f8cf0","#e8401c","#f0b000","#7b2ff7"]},"legend":null},"strokeDash":{"field":"m","type":"nominal","scale":{"domain":["B","U","H","R"],"range":[[12,5],[10,4,2,4],[1,0],[2,7]]},"legend":null}}},
{"data":{"values":[{"t":"C4"}]},"mark":{"type":"text","align":"left","baseline":"top","dx":5,"dy":4,"fontSize":28},"encoding":{"x":{"datum":16,"type":"quantitative"},"y":{"datum":0.1,"type":"quantitative"},"text":{"field":"t"}}}
]}
],
"config":{
"font":"Liberation Sans",
"view":{"stroke":null},
"axis":{"domainColor":"#000","domainWidth":2.5,"tickColor":"#000","tickWidth":2,"tickSize":5,"labelFont":"Liberation Sans","labelFontSize":23,"labelFontWeight":"bold","labelColor":"#000","labelPadding":2,"labelFlush":false,"labelOverlap":false,"titleFont":"Liberation Sans","titleFontSize":30,"titleFontWeight":"normal","titleColor":"#000","grid":false},
"title":{"font":"Liberation Sans","fontSize":30,"fontWeight":"normal","color":"#000","offset":9},
"text":{"font":"Liberation Sans","color":"#000"}
}
}
